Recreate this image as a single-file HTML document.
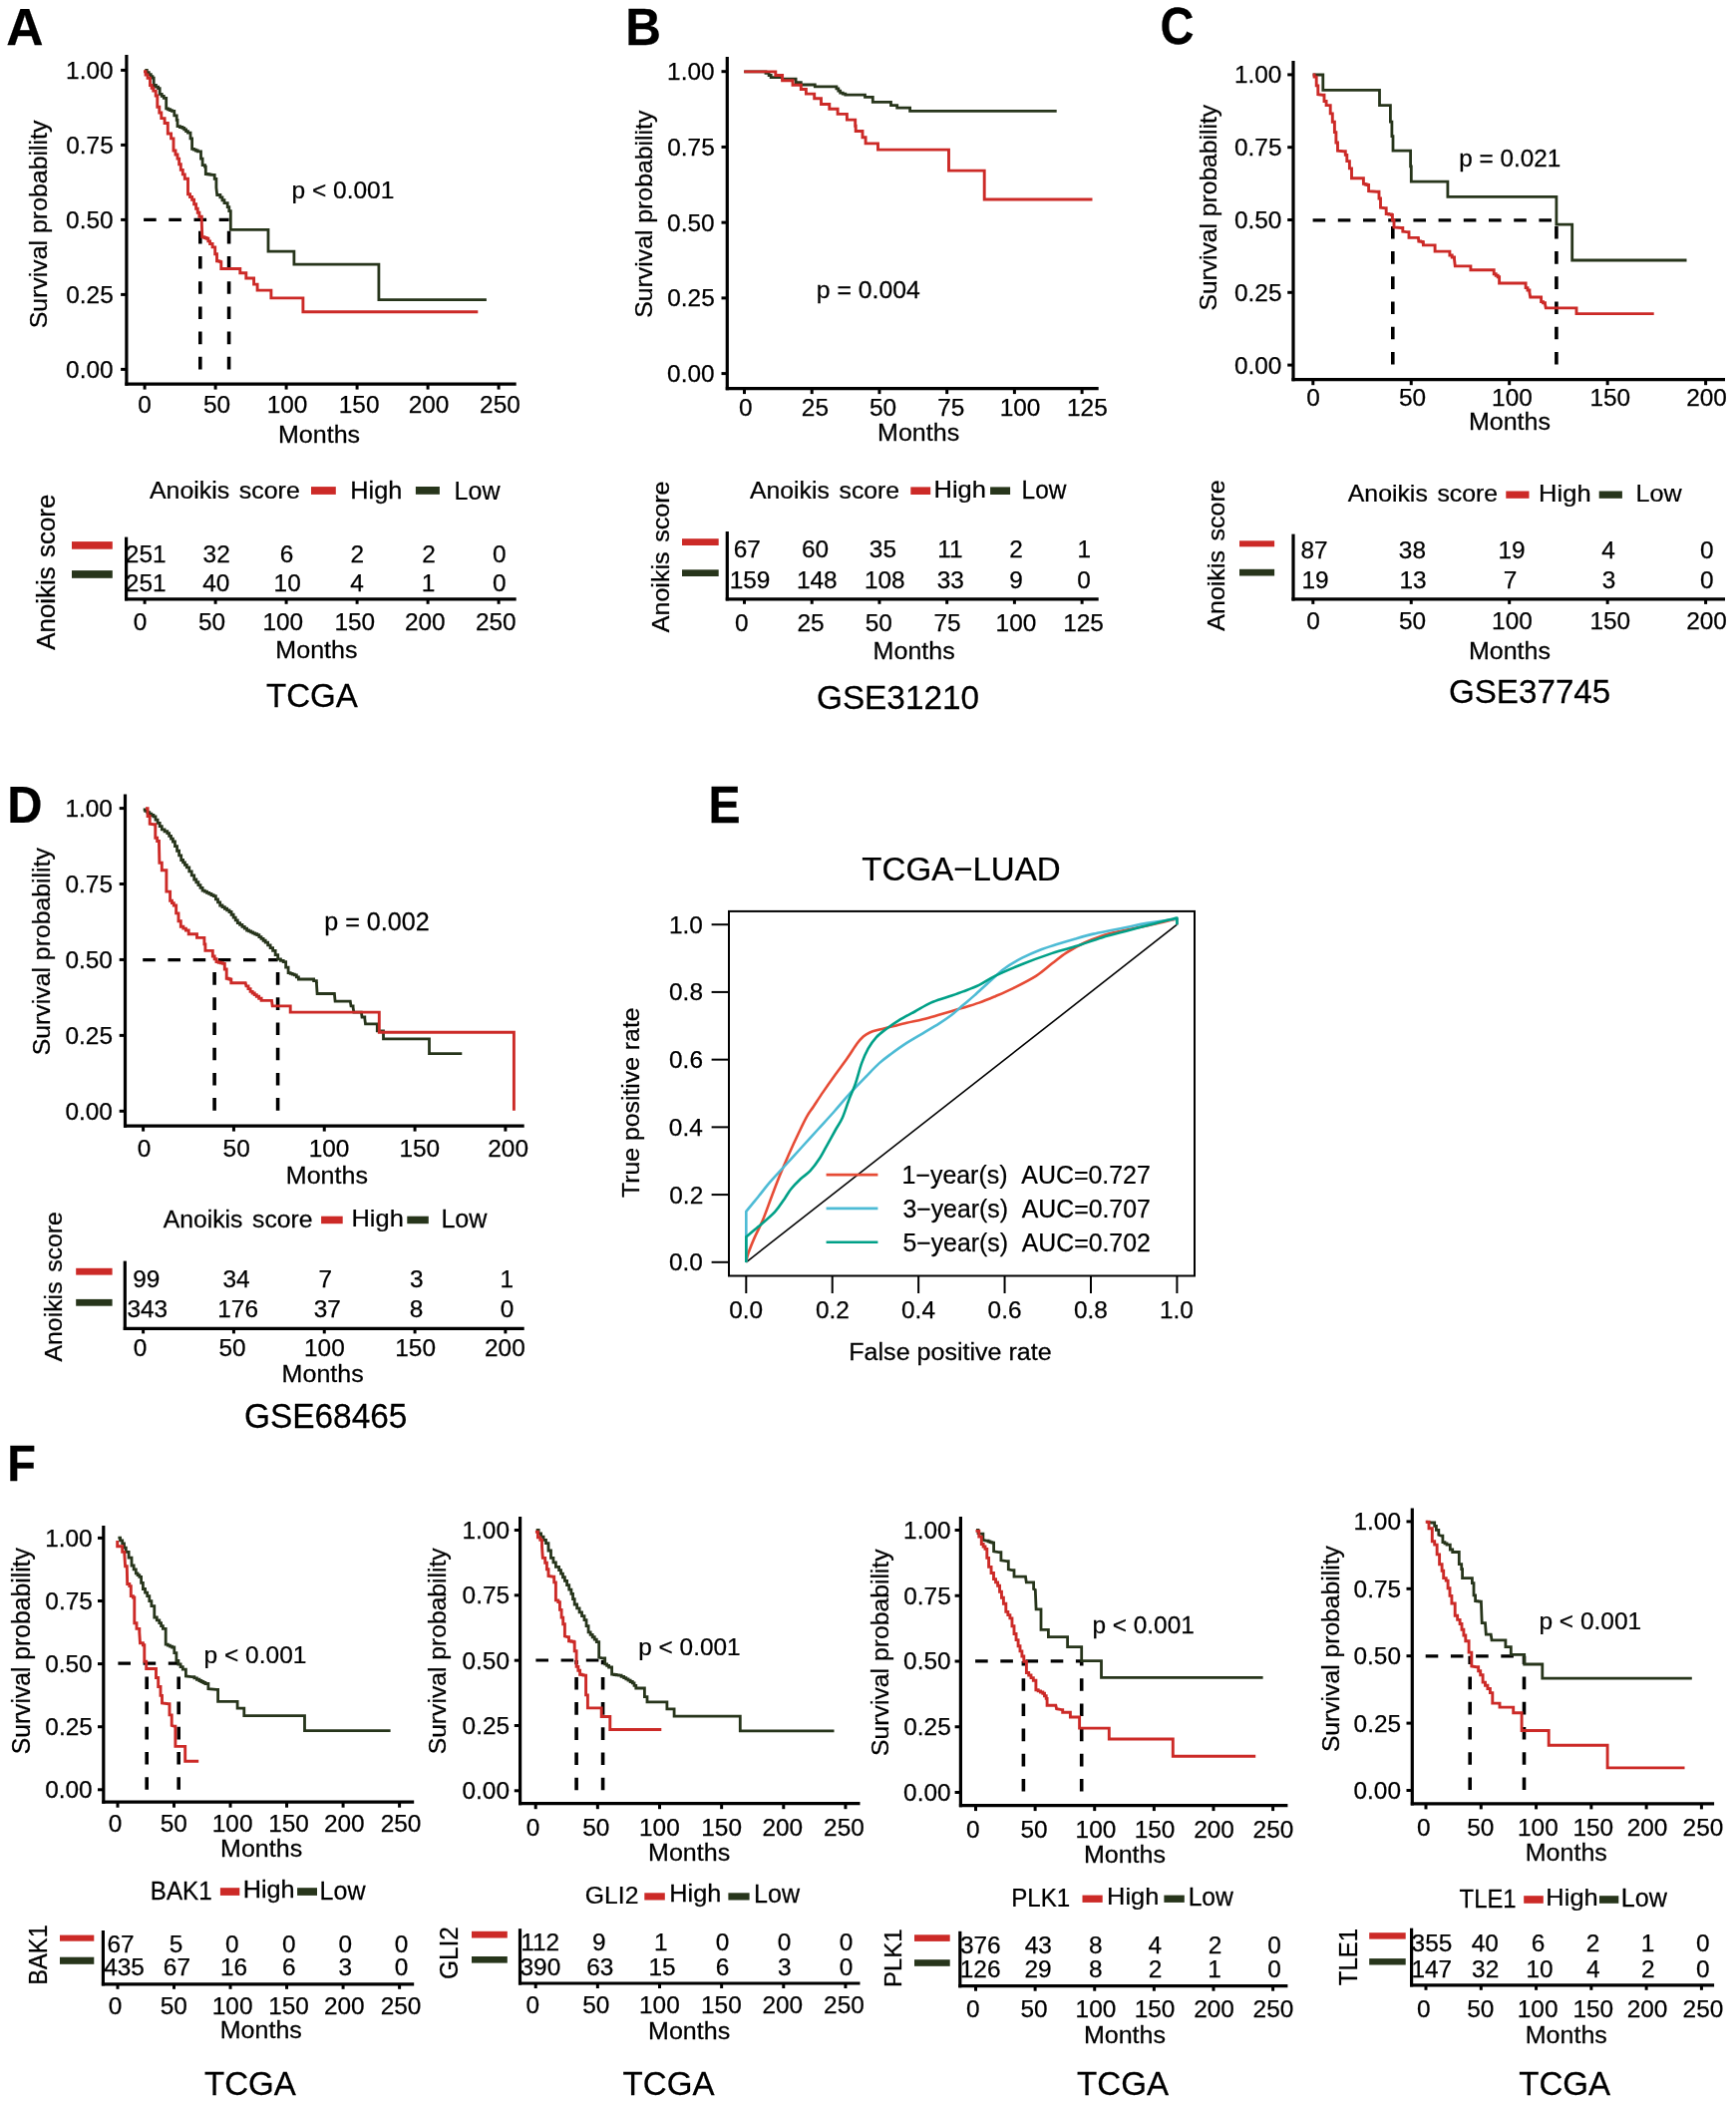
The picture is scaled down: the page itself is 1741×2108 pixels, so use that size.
<!DOCTYPE html>
<html><head><meta charset="utf-8"><style>
html,body{margin:0;padding:0;background:#fff;overflow:hidden;width:1741px;height:2108px;}
svg{display:block;will-change:transform;}
text{font-family:"Liberation Sans",sans-serif;stroke:#000;stroke-width:0.25px;}
</style></head><body>
<svg width="1741" height="2108" viewBox="0 0 1741 2108">
<rect width="1741" height="2108" fill="#fff"/>
<text transform="translate(6.31,45.00)" font-size="51.59" font-weight="bold">A</text>
<text transform="translate(627.28,44.80) scale(0.9596,1)" font-size="51.59" font-weight="bold">B</text>
<text transform="translate(1163.61,44.28) scale(0.9127,1)" font-size="51.69" font-weight="bold">C</text>
<text transform="translate(7.33,824.90) scale(0.9455,1)" font-size="51.59" font-weight="bold">D</text>
<text transform="translate(710.57,825.30) scale(0.9331,1)" font-size="51.59" font-weight="bold">E</text>
<text transform="translate(7.15,1485.00) scale(0.9292,1)" font-size="50.43" font-weight="bold">F</text>
<line x1="126.90" y1="55.00" x2="126.90" y2="386.70" stroke="#000" stroke-width="3.2" stroke-linecap="butt"/>
<line x1="125.40" y1="385.10" x2="517.70" y2="385.10" stroke="#000" stroke-width="3.2" stroke-linecap="butt"/>
<line x1="121.10" y1="70.40" x2="126.90" y2="70.40" stroke="#000" stroke-width="3.0" stroke-linecap="butt"/>
<text transform="translate(66.10,78.82)" font-size="24.40">1.00</text>
<line x1="121.10" y1="145.40" x2="126.90" y2="145.40" stroke="#000" stroke-width="3.0" stroke-linecap="butt"/>
<text transform="translate(66.22,153.82)" font-size="24.40">0.75</text>
<line x1="121.10" y1="220.40" x2="126.90" y2="220.40" stroke="#000" stroke-width="3.0" stroke-linecap="butt"/>
<text transform="translate(66.10,228.82)" font-size="24.40">0.50</text>
<line x1="121.10" y1="295.40" x2="126.90" y2="295.40" stroke="#000" stroke-width="3.0" stroke-linecap="butt"/>
<text transform="translate(66.22,303.82)" font-size="24.40">0.25</text>
<line x1="121.10" y1="370.40" x2="126.90" y2="370.40" stroke="#000" stroke-width="3.0" stroke-linecap="butt"/>
<text transform="translate(66.10,378.82)" font-size="24.40">0.00</text>
<line x1="145.10" y1="385.10" x2="145.10" y2="390.60" stroke="#000" stroke-width="3.0" stroke-linecap="butt"/>
<text transform="translate(138.27,414.37)" font-size="24.40">0</text>
<line x1="216.10" y1="385.10" x2="216.10" y2="390.60" stroke="#000" stroke-width="3.0" stroke-linecap="butt"/>
<text transform="translate(203.90,414.37)" font-size="24.40">50</text>
<line x1="287.10" y1="385.10" x2="287.10" y2="390.60" stroke="#000" stroke-width="3.0" stroke-linecap="butt"/>
<text transform="translate(267.70,414.37)" font-size="24.40">100</text>
<line x1="358.10" y1="385.10" x2="358.10" y2="390.60" stroke="#000" stroke-width="3.0" stroke-linecap="butt"/>
<text transform="translate(339.80,414.37)" font-size="24.40">150</text>
<line x1="429.10" y1="385.10" x2="429.10" y2="390.60" stroke="#000" stroke-width="3.0" stroke-linecap="butt"/>
<text transform="translate(409.70,414.37)" font-size="24.40">200</text>
<line x1="500.10" y1="385.10" x2="500.10" y2="390.60" stroke="#000" stroke-width="3.0" stroke-linecap="butt"/>
<text transform="translate(481.10,414.37)" font-size="24.40">250</text>
<text transform="translate(279.00,443.64) scale(1.0404,1)" font-size="24.08">Months</text>
<text transform="translate(47.08,329.32) rotate(-90) scale(1.0201,1)" font-size="24.39">Survival probability</text>
<text transform="translate(292.51,199.38) scale(0.9857,1)" font-size="24.84">p &lt; 0.001</text>
<line x1="144.10" y1="220.40" x2="229.60" y2="220.40" stroke="#000" stroke-width="3.2" stroke-linecap="butt" stroke-dasharray="12.6,12.6"/>
<line x1="200.80" y1="370.40" x2="200.80" y2="220.40" stroke="#000" stroke-width="3.6" stroke-linecap="butt" stroke-dasharray="12.6,12.6"/>
<line x1="229.60" y1="370.40" x2="229.60" y2="220.40" stroke="#000" stroke-width="3.6" stroke-linecap="butt" stroke-dasharray="12.6,12.6"/>
<path d="M145.30,70.50 L147.30,70.50 L147.30,72.53 L149.30,72.53 L149.30,74.57 L151.30,74.57 L151.30,76.60 L152.90,76.60 L152.90,78.20 L154.20,78.20 L154.20,85.50 L156.40,85.50 L156.40,87.10 L158.60,87.10 L158.60,88.70 L160.20,88.70 L160.20,94.40 L162.25,94.40 L162.25,96.40 L164.30,96.40 L164.30,98.40 L166.70,98.40 L166.70,108.90 L168.60,108.90 L168.60,109.73 L170.50,109.73 L170.50,110.57 L172.40,110.57 L172.40,111.40 L174.80,111.40 L174.80,115.85 L177.20,115.85 L177.20,120.30 L178.00,120.30 L178.00,126.70 L180.45,126.70 L180.45,127.50 L182.90,127.50 L182.90,128.30 L184.77,128.30 L184.77,129.93 L186.63,129.93 L186.63,131.57 L188.50,131.57 L188.50,133.20 L191.00,133.20 L191.00,138.90 L192.60,138.90 L192.60,149.40 L194.50,149.40 L194.50,150.20 L196.40,150.20 L196.40,151.00 L198.30,151.00 L198.30,151.80 L201.50,151.80 L201.50,159.10 L203.10,159.10 L203.10,165.60 L205.50,165.60 L205.50,167.20 L206.30,167.20 L206.30,174.50 L208.20,174.50 L208.20,174.77 L210.10,174.77 L210.10,175.03 L212.00,175.03 L212.00,175.30 L215.20,175.30 L215.20,179.30 L216.90,179.30 L216.90,188.20 L217.70,195.50 L220.90,195.50 L220.90,197.90 L222.95,197.90 L222.95,200.75 L225.00,200.75 L225.00,203.60 L228.20,203.60 L228.20,207.60 L229.80,207.60 L229.80,211.70 L231.30,211.70 L231.30,230.30 L269.00,230.30 L269.00,252.20 L294.90,252.20 L294.90,265.20 L379.90,265.20 L379.90,300.60 L487.90,300.60" fill="none" stroke="#27351b" stroke-width="2.8" stroke-linejoin="miter" stroke-linecap="butt"/>
<path d="M144.00,71.70 L146.05,71.70 L146.05,74.95 L148.10,74.95 L148.10,78.20 L150.50,78.20 L150.50,85.50 L152.15,85.50 L152.15,88.30 L153.80,88.30 L153.80,91.10 L156.20,91.10 L156.20,96.00 L157.80,96.00 L157.80,107.30 L159.80,107.30 L159.80,112.95 L161.80,112.95 L161.80,118.60 L165.10,118.60 L165.10,123.50 L168.30,123.50 L168.30,134.00 L171.60,134.00 L171.60,138.90 L174.00,138.90 L174.00,151.00 L176.00,151.00 L176.00,155.05 L178.00,155.05 L178.00,159.10 L179.65,159.10 L179.65,164.75 L181.30,164.75 L181.30,170.40 L183.30,170.40 L183.30,174.85 L185.30,174.85 L185.30,179.30 L188.50,179.30 L188.50,194.70 L190.55,194.70 L190.55,197.50 L192.60,197.50 L192.60,200.30 L194.60,200.30 L194.60,204.75 L196.60,204.75 L196.60,209.20 L198.25,209.20 L198.25,213.25 L199.90,213.25 L199.90,217.30 L202.30,217.30 L202.30,223.80 L202.80,237.60 L204.95,237.60 L204.95,238.45 L207.10,238.45 L207.10,239.30 L208.85,239.30 L208.85,241.90 L210.60,241.90 L210.60,244.50 L213.10,244.50 L213.10,247.90 L215.70,247.90 L215.70,254.80 L217.50,254.80 L217.50,261.70 L219.20,261.70 L219.20,262.15 L220.90,262.15 L220.90,262.60 L221.80,262.60 L221.80,269.50 L240.80,269.50 L240.80,273.80 L246.80,273.80 L246.80,279.00 L254.60,279.00 L254.60,285.10 L258.10,285.10 L258.10,291.10 L271.90,291.10 L271.90,298.90 L303.90,298.90 L303.90,312.70 L479.30,312.70" fill="none" stroke="#cc2a27" stroke-width="2.9" stroke-linejoin="miter" stroke-linecap="butt"/>
<text transform="translate(149.90,500.46) scale(1.0407,1)" font-size="23.95">Anoikis</text>
<text transform="translate(239.84,500.46) scale(1.0407,1)" font-size="23.95">score</text>
<rect x="312.00" y="488.10" width="24.80" height="7.80" fill="#cc2a27"/>
<rect x="416.90" y="488.00" width="24.00" height="7.80" fill="#27351b"/>
<text transform="translate(351.28,500.29) scale(1.0603,1)" font-size="23.85">High</text>
<text transform="translate(455.60,500.65) scale(0.9893,1)" font-size="25.29">Low</text>
<line x1="126.60" y1="538.60" x2="126.60" y2="602.40" stroke="#000" stroke-width="3.2" stroke-linecap="butt"/>
<line x1="125.10" y1="600.80" x2="517.70" y2="600.80" stroke="#000" stroke-width="3.2" stroke-linecap="butt"/>
<line x1="145.10" y1="600.80" x2="145.10" y2="605.80" stroke="#000" stroke-width="3.0" stroke-linecap="butt"/>
<text transform="translate(133.77,631.82)" font-size="24.40">0</text>
<line x1="216.10" y1="600.80" x2="216.10" y2="605.80" stroke="#000" stroke-width="3.0" stroke-linecap="butt"/>
<text transform="translate(199.00,631.82)" font-size="24.40">50</text>
<line x1="287.10" y1="600.80" x2="287.10" y2="605.80" stroke="#000" stroke-width="3.0" stroke-linecap="butt"/>
<text transform="translate(263.40,631.82)" font-size="24.40">100</text>
<line x1="358.10" y1="600.80" x2="358.10" y2="605.80" stroke="#000" stroke-width="3.0" stroke-linecap="butt"/>
<text transform="translate(335.40,631.82)" font-size="24.40">150</text>
<line x1="429.10" y1="600.80" x2="429.10" y2="605.80" stroke="#000" stroke-width="3.0" stroke-linecap="butt"/>
<text transform="translate(405.90,631.82)" font-size="24.40">200</text>
<line x1="500.10" y1="600.80" x2="500.10" y2="605.80" stroke="#000" stroke-width="3.0" stroke-linecap="butt"/>
<text transform="translate(476.90,631.82)" font-size="24.40">250</text>
<text transform="translate(125.83,563.92)" font-size="24.40">251</text>
<text transform="translate(203.58,563.92)" font-size="24.40">32</text>
<text transform="translate(280.81,563.92)" font-size="24.40">6</text>
<text transform="translate(351.53,564.04)" font-size="24.40">2</text>
<text transform="translate(423.13,564.04)" font-size="24.40">2</text>
<text transform="translate(493.97,563.92)" font-size="24.40">0</text>
<text transform="translate(125.83,592.92)" font-size="24.40">251</text>
<text transform="translate(203.14,592.92)" font-size="24.40">40</text>
<text transform="translate(274.57,592.92)" font-size="24.40">10</text>
<text transform="translate(351.35,592.92)" font-size="24.40">4</text>
<text transform="translate(422.86,592.92)" font-size="24.40">1</text>
<text transform="translate(493.97,592.92)" font-size="24.40">0</text>
<rect x="72.00" y="543.10" width="40.80" height="7.60" fill="#cc2a27"/>
<rect x="72.00" y="572.10" width="40.80" height="7.70" fill="#27351b"/>
<text transform="translate(55.25,651.70) rotate(-90) scale(1.0206,1)" font-size="25.31">Anoikis</text>
<text transform="translate(55.25,558.89) rotate(-90) scale(1.0206,1)" font-size="25.31">score</text>
<text transform="translate(276.35,660.46) scale(1.0404,1)" font-size="24.08">Months</text>
<text transform="translate(266.99,708.61) scale(0.9793,1)" font-size="33.80">TCGA</text>
<line x1="729.30" y1="56.90" x2="729.30" y2="391.20" stroke="#000" stroke-width="3.2" stroke-linecap="butt"/>
<line x1="727.80" y1="389.60" x2="1101.70" y2="389.60" stroke="#000" stroke-width="3.2" stroke-linecap="butt"/>
<line x1="723.50" y1="71.70" x2="729.30" y2="71.70" stroke="#000" stroke-width="3.0" stroke-linecap="butt"/>
<text transform="translate(669.10,80.12)" font-size="24.40">1.00</text>
<line x1="723.50" y1="147.43" x2="729.30" y2="147.43" stroke="#000" stroke-width="3.0" stroke-linecap="butt"/>
<text transform="translate(669.22,155.84)" font-size="24.40">0.75</text>
<line x1="723.50" y1="223.15" x2="729.30" y2="223.15" stroke="#000" stroke-width="3.0" stroke-linecap="butt"/>
<text transform="translate(669.10,231.57)" font-size="24.40">0.50</text>
<line x1="723.50" y1="298.88" x2="729.30" y2="298.88" stroke="#000" stroke-width="3.0" stroke-linecap="butt"/>
<text transform="translate(669.22,307.29)" font-size="24.40">0.25</text>
<line x1="723.50" y1="374.60" x2="729.30" y2="374.60" stroke="#000" stroke-width="3.0" stroke-linecap="butt"/>
<text transform="translate(669.10,383.02)" font-size="24.40">0.00</text>
<line x1="746.50" y1="389.60" x2="746.50" y2="395.10" stroke="#000" stroke-width="3.0" stroke-linecap="butt"/>
<text transform="translate(740.97,416.87)" font-size="24.40">0</text>
<line x1="814.23" y1="389.60" x2="814.23" y2="395.10" stroke="#000" stroke-width="3.0" stroke-linecap="butt"/>
<text transform="translate(803.84,416.87)" font-size="24.40">25</text>
<line x1="881.95" y1="389.60" x2="881.95" y2="395.10" stroke="#000" stroke-width="3.0" stroke-linecap="butt"/>
<text transform="translate(871.90,416.87)" font-size="24.40">50</text>
<line x1="949.67" y1="389.60" x2="949.67" y2="395.10" stroke="#000" stroke-width="3.0" stroke-linecap="butt"/>
<text transform="translate(940.24,416.75)" font-size="24.40">75</text>
<line x1="1017.40" y1="389.60" x2="1017.40" y2="395.10" stroke="#000" stroke-width="3.0" stroke-linecap="butt"/>
<text transform="translate(1002.70,416.87)" font-size="24.40">100</text>
<line x1="1085.12" y1="389.60" x2="1085.12" y2="395.10" stroke="#000" stroke-width="3.0" stroke-linecap="butt"/>
<text transform="translate(1070.06,416.87)" font-size="24.40">125</text>
<text transform="translate(880.05,441.58) scale(1.0404,1)" font-size="24.08">Months</text>
<text transform="translate(653.58,318.72) rotate(-90) scale(1.0171,1)" font-size="24.39">Survival probability</text>
<text transform="translate(818.69,299.43) scale(1.0087,1)" font-size="24.62">p = 0.004</text>
<path d="M746.20,71.90 L765.90,71.90 L768.00,71.90 L768.00,73.40 L771.10,73.40 L771.10,75.50 L773.20,75.50 L773.20,77.60 L784.60,77.60 L784.60,79.10 L795.50,79.10 L798.10,79.10 L798.10,82.70 L803.30,82.70 L803.30,85.00 L817.30,85.00 L817.30,86.90 L837.00,86.90 L838.90,86.90 L838.90,88.97 L840.80,88.97 L840.80,91.03 L842.70,91.03 L842.70,93.10 L845.25,93.10 L845.25,94.15 L847.80,94.15 L847.80,95.20 L867.50,95.20 L867.50,97.30 L875.30,97.30 L875.30,102.40 L893.50,102.40 L893.50,105.60 L899.70,105.60 L899.70,108.10 L912.60,108.10 L912.60,111.30 L1059.70,111.30" fill="none" stroke="#27351b" stroke-width="2.8" stroke-linejoin="miter" stroke-linecap="butt"/>
<path d="M746.20,71.90 L777.80,71.90 L777.80,75.50 L784.60,75.50 L784.60,80.70 L795.00,80.70 L795.00,85.30 L803.30,85.30 L803.30,89.50 L808.40,89.50 L808.40,94.10 L816.70,94.10 L816.70,98.80 L823.50,98.80 L823.50,104.50 L831.80,104.50 L831.80,109.20 L840.10,109.20 L840.10,114.40 L849.40,114.40 L849.40,120.10 L857.70,120.10 L857.70,126.30 L858.20,126.30 L858.20,131.50 L865.00,131.50 L865.00,137.70 L868.10,137.70 L868.10,143.90 L880.50,143.90 L880.50,150.10 L951.50,150.10 L951.50,171.10 L987.20,171.10 L987.20,200.00 L1095.50,200.00" fill="none" stroke="#cc2a27" stroke-width="2.9" stroke-linejoin="miter" stroke-linecap="butt"/>
<text transform="translate(752.00,499.76) scale(1.0350,1)" font-size="23.95">Anoikis</text>
<text transform="translate(841.52,499.76) scale(1.0350,1)" font-size="23.95">score</text>
<rect x="913.30" y="488.40" width="19.90" height="7.60" fill="#cc2a27"/>
<rect x="993.10" y="488.40" width="20.00" height="7.60" fill="#27351b"/>
<text transform="translate(936.56,499.32) scale(1.0549,1)" font-size="24.17">High</text>
<text transform="translate(1024.54,499.95) scale(0.9834,1)" font-size="24.86">Low</text>
<line x1="729.30" y1="533.00" x2="729.30" y2="602.40" stroke="#000" stroke-width="3.2" stroke-linecap="butt"/>
<line x1="727.80" y1="600.80" x2="1101.70" y2="600.80" stroke="#000" stroke-width="3.2" stroke-linecap="butt"/>
<line x1="746.50" y1="600.80" x2="746.50" y2="605.80" stroke="#000" stroke-width="3.0" stroke-linecap="butt"/>
<text transform="translate(736.97,633.37)" font-size="24.40">0</text>
<line x1="814.23" y1="600.80" x2="814.23" y2="605.80" stroke="#000" stroke-width="3.0" stroke-linecap="butt"/>
<text transform="translate(799.54,633.37)" font-size="24.40">25</text>
<line x1="881.95" y1="600.80" x2="881.95" y2="605.80" stroke="#000" stroke-width="3.0" stroke-linecap="butt"/>
<text transform="translate(867.80,633.37)" font-size="24.40">50</text>
<line x1="949.67" y1="600.80" x2="949.67" y2="605.80" stroke="#000" stroke-width="3.0" stroke-linecap="butt"/>
<text transform="translate(936.44,633.25)" font-size="24.40">75</text>
<line x1="1017.40" y1="600.80" x2="1017.40" y2="605.80" stroke="#000" stroke-width="3.0" stroke-linecap="butt"/>
<text transform="translate(998.60,633.37)" font-size="24.40">100</text>
<line x1="1085.12" y1="600.80" x2="1085.12" y2="605.80" stroke="#000" stroke-width="3.0" stroke-linecap="butt"/>
<text transform="translate(1066.16,633.37)" font-size="24.40">125</text>
<text transform="translate(735.76,558.67)" font-size="24.40">67</text>
<text transform="translate(803.88,558.67)" font-size="24.40">60</text>
<text transform="translate(871.86,558.67)" font-size="24.40">35</text>
<text transform="translate(940.31,558.67)" font-size="24.40">11</text>
<text transform="translate(1012.33,558.79)" font-size="24.40">2</text>
<text transform="translate(1080.46,558.67)" font-size="24.40">1</text>
<text transform="translate(731.72,589.82)" font-size="24.40">159</text>
<text transform="translate(798.96,589.82)" font-size="24.40">148</text>
<text transform="translate(866.96,589.82)" font-size="24.40">108</text>
<text transform="translate(939.66,589.82)" font-size="24.40">33</text>
<text transform="translate(1012.33,589.82)" font-size="24.40">9</text>
<text transform="translate(1080.37,589.82)" font-size="24.40">0</text>
<rect x="684.00" y="540.20" width="36.70" height="6.80" fill="#cc2a27"/>
<rect x="684.00" y="571.30" width="36.70" height="6.70" fill="#27351b"/>
<text transform="translate(670.76,634.30) rotate(-90) scale(1.0478,1)" font-size="23.95">Anoikis</text>
<text transform="translate(670.76,543.82) rotate(-90) scale(1.0478,1)" font-size="23.95">score</text>
<text transform="translate(875.60,660.76) scale(1.0404,1)" font-size="24.08">Months</text>
<text transform="translate(818.93,711.46) scale(0.9788,1)" font-size="34.08">GSE31210</text>
<line x1="1297.00" y1="60.90" x2="1297.00" y2="382.30" stroke="#000" stroke-width="3.2" stroke-linecap="butt"/>
<line x1="1295.50" y1="380.70" x2="1730.00" y2="380.70" stroke="#000" stroke-width="3.2" stroke-linecap="butt"/>
<line x1="1291.20" y1="74.90" x2="1297.00" y2="74.90" stroke="#000" stroke-width="3.0" stroke-linecap="butt"/>
<text transform="translate(1237.90,83.32)" font-size="24.40">1.00</text>
<line x1="1291.20" y1="147.70" x2="1297.00" y2="147.70" stroke="#000" stroke-width="3.0" stroke-linecap="butt"/>
<text transform="translate(1238.02,156.12)" font-size="24.40">0.75</text>
<line x1="1291.20" y1="220.50" x2="1297.00" y2="220.50" stroke="#000" stroke-width="3.0" stroke-linecap="butt"/>
<text transform="translate(1237.90,228.92)" font-size="24.40">0.50</text>
<line x1="1291.20" y1="293.30" x2="1297.00" y2="293.30" stroke="#000" stroke-width="3.0" stroke-linecap="butt"/>
<text transform="translate(1238.02,301.72)" font-size="24.40">0.25</text>
<line x1="1291.20" y1="366.10" x2="1297.00" y2="366.10" stroke="#000" stroke-width="3.0" stroke-linecap="butt"/>
<text transform="translate(1237.90,374.52)" font-size="24.40">0.00</text>
<line x1="1316.80" y1="380.70" x2="1316.80" y2="386.20" stroke="#000" stroke-width="3.0" stroke-linecap="butt"/>
<text transform="translate(1310.17,406.72)" font-size="24.40">0</text>
<line x1="1415.25" y1="380.70" x2="1415.25" y2="386.20" stroke="#000" stroke-width="3.0" stroke-linecap="butt"/>
<text transform="translate(1402.90,406.72)" font-size="24.40">50</text>
<line x1="1513.70" y1="380.70" x2="1513.70" y2="386.20" stroke="#000" stroke-width="3.0" stroke-linecap="butt"/>
<text transform="translate(1496.10,406.72)" font-size="24.40">100</text>
<line x1="1612.15" y1="380.70" x2="1612.15" y2="386.20" stroke="#000" stroke-width="3.0" stroke-linecap="butt"/>
<text transform="translate(1594.40,406.72)" font-size="24.40">150</text>
<line x1="1710.60" y1="380.70" x2="1710.60" y2="386.20" stroke="#000" stroke-width="3.0" stroke-linecap="butt"/>
<text transform="translate(1691.20,406.72)" font-size="24.40">200</text>
<text transform="translate(1472.90,430.61) scale(1.0404,1)" font-size="24.08">Months</text>
<text transform="translate(1220.11,311.51) rotate(-90) scale(0.9962,1)" font-size="24.71">Survival probability</text>
<text transform="translate(1463.32,167.43) scale(0.9865,1)" font-size="24.62">p = 0.021</text>
<line x1="1316.60" y1="220.80" x2="1560.90" y2="220.80" stroke="#000" stroke-width="3.2" stroke-linecap="butt" stroke-dasharray="12.6,12.6"/>
<line x1="1396.80" y1="365.50" x2="1396.80" y2="220.80" stroke="#000" stroke-width="3.6" stroke-linecap="butt" stroke-dasharray="12.6,12.6"/>
<line x1="1560.90" y1="365.50" x2="1560.90" y2="220.80" stroke="#000" stroke-width="3.6" stroke-linecap="butt" stroke-dasharray="12.6,12.6"/>
<path d="M1316.60,75.00 L1326.80,75.00 L1326.80,90.30 L1383.50,90.30 L1383.50,105.60 L1394.40,105.60 L1394.40,122.20 L1395.90,122.20 L1395.90,136.70 L1397.00,136.70 L1397.00,151.20 L1414.60,151.20 L1414.60,166.80 L1415.30,166.80 L1415.30,182.10 L1451.90,182.10 L1451.90,197.40 L1560.90,197.40 L1560.90,225.20 L1576.70,225.20 L1576.70,261.00 L1691.50,261.00" fill="none" stroke="#27351b" stroke-width="2.8" stroke-linejoin="miter" stroke-linecap="butt"/>
<path d="M1316.60,75.00 L1318.10,75.00 L1318.10,77.10 L1320.20,77.10 L1320.20,85.90 L1321.80,85.90 L1321.80,94.70 L1326.40,95.30 L1328.00,95.30 L1328.00,101.50 L1330.10,101.50 L1330.10,105.60 L1332.70,105.60 L1334.20,105.60 L1334.20,113.90 L1336.30,113.90 L1336.30,122.20 L1338.40,122.20 L1338.40,132.60 L1339.90,132.60 L1339.90,143.00 L1341.50,143.00 L1341.50,151.20 L1347.70,151.80 L1349.30,151.80 L1349.30,155.40 L1350.80,155.40 L1350.80,161.60 L1353.40,161.60 L1353.40,168.90 L1355.50,168.90 L1355.50,169.90 L1355.50,178.70 L1366.40,178.70 L1367.40,178.70 L1367.40,184.40 L1369.20,184.40 L1369.20,184.95 L1371.00,184.95 L1371.00,185.50 L1372.60,185.50 L1372.60,191.70 L1380.90,192.20 L1383.00,192.20 L1383.00,199.00 L1384.50,199.00 L1384.50,208.30 L1389.20,208.80 L1390.20,208.80 L1390.20,214.50 L1392.80,214.50 L1392.80,215.00 L1395.40,215.00 L1395.40,215.50 L1396.40,215.50 L1396.40,220.70 L1398.00,220.70 L1398.00,228.00 L1405.20,228.50 L1406.80,228.50 L1406.80,232.10 L1410.90,232.60 L1413.00,232.60 L1413.00,238.40 L1422.40,238.40 L1422.80,242.00 L1424.70,242.00 L1424.70,242.40 L1426.60,242.40 L1426.60,242.80 L1427.40,242.80 L1427.40,245.90 L1437.50,245.90 L1439.10,245.90 L1439.10,252.10 L1452.30,252.10 L1453.90,252.10 L1453.90,256.00 L1456.20,256.00 L1456.20,257.95 L1458.50,257.95 L1458.50,259.90 L1459.30,266.90 L1474.10,266.90 L1474.90,266.90 L1474.90,270.80 L1496.60,270.80 L1498.20,270.80 L1498.20,274.70 L1500.15,274.70 L1500.15,276.25 L1502.10,276.25 L1502.10,277.80 L1503.60,277.80 L1503.60,284.00 L1528.50,284.00 L1530.10,284.00 L1530.10,288.60 L1532.00,288.60 L1532.00,290.95 L1533.90,290.95 L1533.90,293.30 L1534.70,298.00 L1544.10,298.00 L1545.60,298.00 L1545.60,302.60 L1547.55,302.60 L1547.55,303.80 L1549.50,303.80 L1549.50,305.00 L1550.30,308.90 L1581.00,308.90 L1581.00,314.60 L1658.70,314.60" fill="none" stroke="#cc2a27" stroke-width="2.9" stroke-linejoin="miter" stroke-linecap="butt"/>
<text transform="translate(1351.80,503.27) scale(1.0668,1)" font-size="23.27">Anoikis</text>
<text transform="translate(1441.43,503.27) scale(1.0668,1)" font-size="23.27">score</text>
<rect x="1510.30" y="492.50" width="23.20" height="7.30" fill="#cc2a27"/>
<rect x="1603.70" y="492.50" width="23.20" height="7.30" fill="#27351b"/>
<text transform="translate(1543.06,503.49) scale(1.0713,1)" font-size="23.85">High</text>
<text transform="translate(1640.49,503.45) scale(1.0167,1)" font-size="24.71">Low</text>
<line x1="1297.00" y1="535.60" x2="1297.00" y2="602.50" stroke="#000" stroke-width="3.2" stroke-linecap="butt"/>
<line x1="1295.50" y1="600.90" x2="1730.00" y2="600.90" stroke="#000" stroke-width="3.2" stroke-linecap="butt"/>
<line x1="1316.80" y1="600.90" x2="1316.80" y2="605.90" stroke="#000" stroke-width="3.0" stroke-linecap="butt"/>
<text transform="translate(1310.17,631.42)" font-size="24.40">0</text>
<line x1="1415.25" y1="600.90" x2="1415.25" y2="605.90" stroke="#000" stroke-width="3.0" stroke-linecap="butt"/>
<text transform="translate(1402.90,631.42)" font-size="24.40">50</text>
<line x1="1513.70" y1="600.90" x2="1513.70" y2="605.90" stroke="#000" stroke-width="3.0" stroke-linecap="butt"/>
<text transform="translate(1496.10,631.42)" font-size="24.40">100</text>
<line x1="1612.15" y1="600.90" x2="1612.15" y2="605.90" stroke="#000" stroke-width="3.0" stroke-linecap="butt"/>
<text transform="translate(1594.40,631.42)" font-size="24.40">150</text>
<line x1="1710.60" y1="600.90" x2="1710.60" y2="605.90" stroke="#000" stroke-width="3.0" stroke-linecap="butt"/>
<text transform="translate(1691.20,631.42)" font-size="24.40">200</text>
<text transform="translate(1304.52,559.57)" font-size="24.40">87</text>
<text transform="translate(1402.86,559.57)" font-size="24.40">38</text>
<text transform="translate(1502.39,559.57)" font-size="24.40">19</text>
<text transform="translate(1606.15,559.57)" font-size="24.40">4</text>
<text transform="translate(1705.07,559.57)" font-size="24.40">0</text>
<text transform="translate(1305.39,589.72)" font-size="24.40">19</text>
<text transform="translate(1403.43,589.72)" font-size="24.40">13</text>
<text transform="translate(1507.63,589.72)" font-size="24.40">7</text>
<text transform="translate(1606.73,589.72)" font-size="24.40">3</text>
<text transform="translate(1705.07,589.72)" font-size="24.40">0</text>
<rect x="1243.00" y="542.30" width="35.10" height="6.00" fill="#cc2a27"/>
<rect x="1243.00" y="570.80" width="35.10" height="6.70" fill="#27351b"/>
<text transform="translate(1228.17,632.70) rotate(-90) scale(1.0691,1)" font-size="23.40">Anoikis</text>
<text transform="translate(1228.17,542.44) rotate(-90) scale(1.0691,1)" font-size="23.40">score</text>
<text transform="translate(1472.90,660.56) scale(1.0404,1)" font-size="24.08">Months</text>
<text transform="translate(1452.94,704.66) scale(0.9737,1)" font-size="34.08">GSE37745</text>
<line x1="125.50" y1="796.40" x2="125.50" y2="1130.70" stroke="#000" stroke-width="3.2" stroke-linecap="butt"/>
<line x1="124.00" y1="1129.10" x2="525.70" y2="1129.10" stroke="#000" stroke-width="3.2" stroke-linecap="butt"/>
<line x1="119.70" y1="810.60" x2="125.50" y2="810.60" stroke="#000" stroke-width="3.0" stroke-linecap="butt"/>
<text transform="translate(65.40,819.02)" font-size="24.40">1.00</text>
<line x1="119.70" y1="886.52" x2="125.50" y2="886.52" stroke="#000" stroke-width="3.0" stroke-linecap="butt"/>
<text transform="translate(65.52,894.94)" font-size="24.40">0.75</text>
<line x1="119.70" y1="962.45" x2="125.50" y2="962.45" stroke="#000" stroke-width="3.0" stroke-linecap="butt"/>
<text transform="translate(65.40,970.87)" font-size="24.40">0.50</text>
<line x1="119.70" y1="1038.38" x2="125.50" y2="1038.38" stroke="#000" stroke-width="3.0" stroke-linecap="butt"/>
<text transform="translate(65.52,1046.79)" font-size="24.40">0.25</text>
<line x1="119.70" y1="1114.30" x2="125.50" y2="1114.30" stroke="#000" stroke-width="3.0" stroke-linecap="butt"/>
<text transform="translate(65.40,1122.72)" font-size="24.40">0.00</text>
<line x1="143.60" y1="1129.10" x2="143.60" y2="1134.60" stroke="#000" stroke-width="3.0" stroke-linecap="butt"/>
<text transform="translate(137.77,1160.27)" font-size="24.40">0</text>
<line x1="234.43" y1="1129.10" x2="234.43" y2="1134.60" stroke="#000" stroke-width="3.0" stroke-linecap="butt"/>
<text transform="translate(223.60,1160.27)" font-size="24.40">50</text>
<line x1="325.25" y1="1129.10" x2="325.25" y2="1134.60" stroke="#000" stroke-width="3.0" stroke-linecap="butt"/>
<text transform="translate(309.70,1160.27)" font-size="24.40">100</text>
<line x1="416.08" y1="1129.10" x2="416.08" y2="1134.60" stroke="#000" stroke-width="3.0" stroke-linecap="butt"/>
<text transform="translate(400.40,1160.27)" font-size="24.40">150</text>
<line x1="506.90" y1="1129.10" x2="506.90" y2="1134.60" stroke="#000" stroke-width="3.0" stroke-linecap="butt"/>
<text transform="translate(489.30,1160.27)" font-size="24.40">200</text>
<text transform="translate(286.80,1186.51) scale(1.0404,1)" font-size="24.08">Months</text>
<text transform="translate(49.53,1058.22) rotate(-90) scale(1.0088,1)" font-size="24.60">Survival probability</text>
<text transform="translate(325.27,933.46) scale(1.0061,1)" font-size="24.95">p = 0.002</text>
<line x1="143.20" y1="962.70" x2="278.60" y2="962.70" stroke="#000" stroke-width="3.2" stroke-linecap="butt" stroke-dasharray="12.6,12.6"/>
<line x1="215.10" y1="1113.70" x2="215.10" y2="962.70" stroke="#000" stroke-width="3.6" stroke-linecap="butt" stroke-dasharray="12.6,12.6"/>
<line x1="278.60" y1="1113.70" x2="278.60" y2="962.70" stroke="#000" stroke-width="3.6" stroke-linecap="butt" stroke-dasharray="12.6,12.6"/>
<path d="M143.70,812.00 L145.74,812.00 L145.74,813.38 L147.78,813.38 L147.78,814.76 L149.82,814.76 L149.82,816.14 L151.86,816.14 L151.86,817.52 L153.90,817.52 L153.90,818.90 L156.00,818.90 L156.00,822.15 L158.10,822.15 L158.10,825.40 L160.20,825.40 L160.20,828.65 L162.30,828.65 L162.30,831.90 L165.05,831.90 L165.05,833.75 L167.80,833.75 L167.80,835.60 L169.67,835.60 L169.67,838.40 L171.53,838.40 L171.53,841.20 L173.40,841.20 L173.40,844.00 L175.47,844.00 L175.47,848.62 L177.55,848.62 L177.55,853.25 L179.62,853.25 L179.62,857.88 L181.70,857.88 L181.70,862.50 L183.57,862.50 L183.57,864.97 L185.43,864.97 L185.43,867.43 L187.30,867.43 L187.30,869.90 L189.77,869.90 L189.77,873.93 L192.23,873.93 L192.23,877.97 L194.70,877.97 L194.70,882.00 L196.80,882.00 L196.80,884.77 L198.90,884.77 L198.90,887.55 L201.00,887.55 L201.00,890.33 L203.10,890.33 L203.10,893.10 L205.32,893.10 L205.32,894.22 L207.54,894.22 L207.54,895.34 L209.76,895.34 L209.76,896.46 L211.98,896.46 L211.98,897.58 L214.20,897.58 L214.20,898.70 L216.37,898.70 L216.37,901.80 L218.53,901.80 L218.53,904.90 L220.70,904.90 L220.70,908.00 L223.02,908.00 L223.02,909.62 L225.35,909.62 L225.35,911.25 L227.68,911.25 L227.68,912.88 L230.00,912.88 L230.00,914.50 L232.07,914.50 L232.07,917.27 L234.15,917.27 L234.15,920.05 L236.23,920.05 L236.23,922.83 L238.30,922.83 L238.30,925.60 L240.62,925.60 L240.62,927.45 L242.95,927.45 L242.95,929.30 L245.28,929.30 L245.28,931.15 L247.60,931.15 L247.60,933.00 L249.64,933.00 L249.64,933.94 L251.68,933.94 L251.68,934.88 L253.72,934.88 L253.72,935.82 L255.76,935.82 L255.76,936.76 L257.80,936.76 L257.80,937.70 L259.90,937.70 L259.90,939.55 L262.00,939.55 L262.00,941.40 L264.10,941.40 L264.10,943.25 L266.20,943.25 L266.20,945.10 L268.67,945.10 L268.67,947.87 L271.13,947.87 L271.13,950.63 L273.60,950.63 L273.60,953.40 L276.15,953.40 L276.15,957.65 L278.70,957.65 L278.70,961.90 L281.45,961.90 L281.45,963.30 L284.20,963.30 L284.20,964.70 L286.65,964.70 L286.65,970.20 L289.10,970.20 L289.10,975.70 L291.17,975.70 L291.17,976.40 L293.23,976.40 L293.23,977.10 L295.30,977.10 L295.30,977.80 L297.35,977.80 L297.35,979.90 L299.40,979.90 L299.40,982.00 L311.90,982.00 L314.65,982.00 L314.65,983.70 L317.40,983.70 L317.40,985.40 L318.10,996.50 L335.40,996.50 L336.10,1004.10 L351.30,1004.10 L352.00,1008.90 L354.10,1008.90 L354.10,1010.30 L354.80,1015.10 L362.40,1015.10 L363.00,1020.00 L365.80,1020.00 L365.80,1021.40 L366.50,1026.90 L378.30,1026.90 L378.30,1033.80 L384.50,1033.80 L384.50,1041.80 L430.50,1041.80 L430.50,1056.60 L463.30,1056.60" fill="none" stroke="#27351b" stroke-width="2.8" stroke-linejoin="miter" stroke-linecap="butt"/>
<path d="M146.00,810.60 L148.10,810.60 L148.10,818.45 L150.20,818.45 L150.20,826.30 L153.90,826.80 L155.80,826.80 L155.80,840.30 L157.65,840.30 L157.65,843.50 L159.50,843.50 L159.50,846.70 L159.90,865.30 L162.30,865.30 L162.30,872.70 L164.00,872.70 L166.90,872.70 L166.90,894.10 L169.70,894.10 L170.60,894.10 L170.60,903.30 L172.45,903.30 L172.45,905.65 L174.30,905.65 L174.30,908.00 L176.65,908.00 L176.65,915.85 L179.00,915.85 L179.00,923.70 L181.30,923.70 L181.30,929.30 L183.85,929.30 L183.85,931.15 L186.40,931.15 L186.40,933.00 L189.20,933.00 L189.20,936.70 L196.60,936.70 L197.50,936.70 L197.50,940.40 L202.20,940.40 L204.90,940.40 L204.90,946.90 L205.90,946.90 L205.90,953.40 L210.50,953.40 L213.30,953.40 L213.30,959.00 L215.15,959.00 L215.15,961.80 L217.00,961.80 L217.00,964.60 L219.17,964.60 L219.17,965.20 L221.33,965.20 L221.33,965.80 L223.50,965.80 L223.50,966.40 L225.30,966.40 L225.30,972.00 L227.20,972.00 L227.20,981.30 L229.05,981.30 L229.05,981.75 L230.90,981.75 L230.90,982.20 L231.80,982.20 L231.80,985.70 L246.20,985.70 L246.90,988.90 L249.00,988.90 L249.00,991.65 L251.10,991.65 L251.10,994.40 L253.17,994.40 L253.17,996.00 L255.23,996.00 L255.23,997.60 L257.30,997.60 L257.30,999.20 L259.70,999.20 L259.70,1001.30 L262.10,1001.30 L262.10,1003.40 L272.50,1003.40 L273.20,1008.90 L291.20,1008.90 L291.20,1015.10 L380.30,1015.10 L380.30,1035.20 L515.40,1035.20 L515.40,1113.70" fill="none" stroke="#cc2a27" stroke-width="2.9" stroke-linejoin="miter" stroke-linecap="butt"/>
<text transform="translate(163.80,1230.56) scale(1.0320,1)" font-size="23.95">Anoikis</text>
<text transform="translate(253.09,1230.56) scale(1.0320,1)" font-size="23.95">score</text>
<rect x="322.10" y="1219.70" width="21.60" height="7.50" fill="#cc2a27"/>
<rect x="408.30" y="1219.70" width="21.50" height="7.50" fill="#27351b"/>
<text transform="translate(352.46,1229.89) scale(1.0669,1)" font-size="23.85">High</text>
<text transform="translate(442.39,1230.74) scale(0.9827,1)" font-size="25.57">Low</text>
<line x1="125.30" y1="1264.60" x2="125.30" y2="1334.00" stroke="#000" stroke-width="3.2" stroke-linecap="butt"/>
<line x1="123.80" y1="1332.40" x2="525.70" y2="1332.40" stroke="#000" stroke-width="3.2" stroke-linecap="butt"/>
<line x1="143.60" y1="1332.40" x2="143.60" y2="1337.40" stroke="#000" stroke-width="3.0" stroke-linecap="butt"/>
<text transform="translate(133.87,1359.97)" font-size="24.40">0</text>
<line x1="234.43" y1="1332.40" x2="234.43" y2="1337.40" stroke="#000" stroke-width="3.0" stroke-linecap="butt"/>
<text transform="translate(219.40,1359.97)" font-size="24.40">50</text>
<line x1="325.25" y1="1332.40" x2="325.25" y2="1337.40" stroke="#000" stroke-width="3.0" stroke-linecap="butt"/>
<text transform="translate(305.00,1359.97)" font-size="24.40">100</text>
<line x1="416.08" y1="1332.40" x2="416.08" y2="1337.40" stroke="#000" stroke-width="3.0" stroke-linecap="butt"/>
<text transform="translate(396.30,1359.97)" font-size="24.40">150</text>
<line x1="506.90" y1="1332.40" x2="506.90" y2="1337.40" stroke="#000" stroke-width="3.0" stroke-linecap="butt"/>
<text transform="translate(486.00,1359.97)" font-size="24.40">200</text>
<text transform="translate(133.16,1290.92)" font-size="24.40">99</text>
<text transform="translate(223.54,1290.92)" font-size="24.40">34</text>
<text transform="translate(319.53,1290.92)" font-size="24.40">7</text>
<text transform="translate(410.93,1290.92)" font-size="24.40">3</text>
<text transform="translate(501.46,1290.92)" font-size="24.40">1</text>
<text transform="translate(127.39,1321.37)" font-size="24.40">343</text>
<text transform="translate(218.26,1321.37)" font-size="24.40">176</text>
<text transform="translate(314.68,1321.37)" font-size="24.40">37</text>
<text transform="translate(410.87,1321.37)" font-size="24.40">8</text>
<text transform="translate(501.77,1321.37)" font-size="24.40">0</text>
<rect x="76.20" y="1271.80" width="36.40" height="6.80" fill="#cc2a27"/>
<rect x="76.20" y="1302.90" width="36.40" height="6.80" fill="#27351b"/>
<text transform="translate(61.76,1365.50) rotate(-90) scale(1.0373,1)" font-size="23.95">Anoikis</text>
<text transform="translate(61.76,1275.81) rotate(-90) scale(1.0373,1)" font-size="23.95">score</text>
<text transform="translate(282.60,1385.71) scale(1.0404,1)" font-size="24.08">Months</text>
<text transform="translate(244.93,1431.66) scale(0.9730,1)" font-size="34.37">GSE68465</text>
<line x1="103.80" y1="1530.00" x2="103.80" y2="1808.80" stroke="#000" stroke-width="3.2" stroke-linecap="butt"/>
<line x1="102.30" y1="1807.20" x2="415.20" y2="1807.20" stroke="#000" stroke-width="3.2" stroke-linecap="butt"/>
<line x1="98.00" y1="1542.40" x2="103.80" y2="1542.40" stroke="#000" stroke-width="3.0" stroke-linecap="butt"/>
<text transform="translate(45.20,1550.82)" font-size="24.40">1.00</text>
<line x1="98.00" y1="1605.50" x2="103.80" y2="1605.50" stroke="#000" stroke-width="3.0" stroke-linecap="butt"/>
<text transform="translate(45.32,1613.92)" font-size="24.40">0.75</text>
<line x1="98.00" y1="1668.60" x2="103.80" y2="1668.60" stroke="#000" stroke-width="3.0" stroke-linecap="butt"/>
<text transform="translate(45.20,1677.02)" font-size="24.40">0.50</text>
<line x1="98.00" y1="1731.70" x2="103.80" y2="1731.70" stroke="#000" stroke-width="3.0" stroke-linecap="butt"/>
<text transform="translate(45.32,1740.12)" font-size="24.40">0.25</text>
<line x1="98.00" y1="1794.80" x2="103.80" y2="1794.80" stroke="#000" stroke-width="3.0" stroke-linecap="butt"/>
<text transform="translate(45.20,1803.22)" font-size="24.40">0.00</text>
<line x1="118.00" y1="1807.20" x2="118.00" y2="1812.70" stroke="#000" stroke-width="3.0" stroke-linecap="butt"/>
<text transform="translate(108.77,1836.62)" font-size="24.40">0</text>
<line x1="174.52" y1="1807.20" x2="174.52" y2="1812.70" stroke="#000" stroke-width="3.0" stroke-linecap="butt"/>
<text transform="translate(160.70,1836.62)" font-size="24.40">50</text>
<line x1="231.04" y1="1807.20" x2="231.04" y2="1812.70" stroke="#000" stroke-width="3.0" stroke-linecap="butt"/>
<text transform="translate(212.80,1836.62)" font-size="24.40">100</text>
<line x1="287.56" y1="1807.20" x2="287.56" y2="1812.70" stroke="#000" stroke-width="3.0" stroke-linecap="butt"/>
<text transform="translate(269.20,1836.62)" font-size="24.40">150</text>
<line x1="344.08" y1="1807.20" x2="344.08" y2="1812.70" stroke="#000" stroke-width="3.0" stroke-linecap="butt"/>
<text transform="translate(324.90,1836.62)" font-size="24.40">200</text>
<line x1="400.60" y1="1807.20" x2="400.60" y2="1812.70" stroke="#000" stroke-width="3.0" stroke-linecap="butt"/>
<text transform="translate(381.70,1836.62)" font-size="24.40">250</text>
<text transform="translate(221.05,1861.74) scale(1.0404,1)" font-size="24.08">Months</text>
<text transform="translate(30.37,1759.31) rotate(-90) scale(0.9905,1)" font-size="24.92">Survival probability</text>
<text transform="translate(204.61,1667.58) scale(0.9857,1)" font-size="24.84">p &lt; 0.001</text>
<line x1="118.40" y1="1668.20" x2="179.20" y2="1668.20" stroke="#000" stroke-width="3.2" stroke-linecap="butt" stroke-dasharray="12.6,12.6"/>
<line x1="147.20" y1="1794.80" x2="147.20" y2="1668.20" stroke="#000" stroke-width="3.6" stroke-linecap="butt" stroke-dasharray="12.6,12.6"/>
<line x1="179.20" y1="1794.80" x2="179.20" y2="1668.20" stroke="#000" stroke-width="3.6" stroke-linecap="butt" stroke-dasharray="12.6,12.6"/>
<path d="M118.40,1542.10 L120.55,1542.10 L120.55,1544.95 L122.70,1544.95 L122.70,1547.80 L124.50,1547.80 L124.50,1552.10 L126.30,1552.10 L126.30,1556.40 L129.10,1556.40 L129.10,1562.10 L132.00,1562.10 L132.00,1570.00 L134.15,1570.00 L134.15,1573.90 L136.30,1573.90 L136.30,1577.80 L138.05,1577.80 L138.05,1579.60 L139.80,1579.60 L139.80,1581.40 L141.60,1581.40 L141.60,1587.45 L143.40,1587.45 L143.40,1593.50 L145.55,1593.50 L145.55,1597.05 L147.70,1597.05 L147.70,1600.60 L149.80,1600.60 L149.80,1605.60 L151.90,1605.60 L151.90,1610.60 L154.80,1610.60 L154.80,1622.00 L157.30,1622.00 L157.30,1624.85 L159.80,1624.85 L159.80,1627.70 L161.60,1627.70 L161.60,1630.55 L163.40,1630.55 L163.40,1633.40 L166.20,1633.40 L166.20,1649.10 L168.33,1649.10 L168.33,1650.07 L170.47,1650.07 L170.47,1651.03 L172.60,1651.03 L172.60,1652.00 L174.80,1652.00 L174.80,1657.70 L176.90,1657.70 L176.90,1665.50 L178.90,1665.50 L178.90,1669.00 L181.10,1669.00 L181.10,1671.55 L183.30,1671.55 L183.30,1674.10 L186.40,1674.10 L186.40,1681.00 L192.40,1681.70 L194.90,1681.70 L194.90,1682.97 L197.40,1682.97 L197.40,1684.23 L199.90,1684.23 L199.90,1685.50 L201.90,1685.50 L201.90,1686.50 L203.90,1686.50 L203.90,1687.50 L205.90,1687.50 L205.90,1688.50 L208.90,1688.50 L208.90,1693.70 L217.10,1694.40 L218.60,1694.40 L218.60,1706.40 L238.10,1706.40 L238.10,1713.20 L244.80,1713.20 L244.80,1720.70 L305.50,1720.70 L305.50,1735.60 L391.60,1735.60" fill="none" stroke="#27351b" stroke-width="2.8" stroke-linejoin="miter" stroke-linecap="butt"/>
<path d="M117.70,1545.00 L117.70,1550.70 L121.30,1550.70 L122.70,1550.70 L122.70,1556.40 L124.80,1556.40 L124.80,1558.50 L125.60,1570.70 L127.30,1570.70 L127.30,1572.10 L127.70,1588.50 L129.80,1588.50 L129.80,1590.60 L131.30,1590.60 L131.30,1600.60 L133.40,1600.60 L133.40,1602.00 L134.80,1602.00 L134.80,1627.70 L137.00,1627.70 L137.00,1633.40 L139.80,1633.40 L139.80,1637.00 L140.50,1647.70 L143.40,1647.70 L143.40,1649.80 L144.80,1649.80 L144.80,1666.20 L146.70,1666.20 L146.70,1673.50 L155.00,1673.50 L156.50,1673.50 L156.50,1682.50 L158.70,1682.50 L158.70,1691.50 L161.00,1691.50 L161.00,1700.40 L162.50,1700.40 L162.50,1707.90 L169.20,1708.70 L170.00,1708.70 L170.00,1719.90 L172.20,1719.90 L172.20,1730.40 L174.40,1731.10 L175.90,1731.10 L175.90,1751.40 L185.70,1751.40 L185.70,1766.30 L199.20,1766.30" fill="none" stroke="#cc2a27" stroke-width="2.9" stroke-linejoin="miter" stroke-linecap="butt"/>
<text transform="translate(150.76,1904.80) scale(0.9596,1)" font-size="25.22">BAK1</text>
<rect x="220.90" y="1893.20" width="19.40" height="7.70" fill="#cc2a27"/>
<rect x="298.10" y="1893.20" width="19.90" height="7.70" fill="#27351b"/>
<text transform="translate(243.68,1903.39) scale(1.0603,1)" font-size="23.85">High</text>
<text transform="translate(320.60,1904.54) scale(0.9674,1)" font-size="25.86">Low</text>
<line x1="103.40" y1="1936.00" x2="103.40" y2="1991.40" stroke="#000" stroke-width="3.2" stroke-linecap="butt"/>
<line x1="101.90" y1="1989.80" x2="415.20" y2="1989.80" stroke="#000" stroke-width="3.2" stroke-linecap="butt"/>
<line x1="118.00" y1="1989.80" x2="118.00" y2="1994.80" stroke="#000" stroke-width="3.0" stroke-linecap="butt"/>
<text transform="translate(108.77,2019.62)" font-size="24.40">0</text>
<line x1="174.52" y1="1989.80" x2="174.52" y2="1994.80" stroke="#000" stroke-width="3.0" stroke-linecap="butt"/>
<text transform="translate(160.70,2019.62)" font-size="24.40">50</text>
<line x1="231.04" y1="1989.80" x2="231.04" y2="1994.80" stroke="#000" stroke-width="3.0" stroke-linecap="butt"/>
<text transform="translate(212.80,2019.62)" font-size="24.40">100</text>
<line x1="287.56" y1="1989.80" x2="287.56" y2="1994.80" stroke="#000" stroke-width="3.0" stroke-linecap="butt"/>
<text transform="translate(269.20,2019.62)" font-size="24.40">150</text>
<line x1="344.08" y1="1989.80" x2="344.08" y2="1994.80" stroke="#000" stroke-width="3.0" stroke-linecap="butt"/>
<text transform="translate(324.90,2019.62)" font-size="24.40">200</text>
<line x1="400.60" y1="1989.80" x2="400.60" y2="1994.80" stroke="#000" stroke-width="3.0" stroke-linecap="butt"/>
<text transform="translate(381.70,2019.62)" font-size="24.40">250</text>
<text transform="translate(107.46,1957.77)" font-size="24.40">67</text>
<text transform="translate(169.63,1957.65)" font-size="24.40">5</text>
<text transform="translate(225.97,1957.77)" font-size="24.40">0</text>
<text transform="translate(283.07,1957.77)" font-size="24.40">0</text>
<text transform="translate(339.47,1957.77)" font-size="24.40">0</text>
<text transform="translate(395.87,1957.77)" font-size="24.40">0</text>
<text transform="translate(104.13,1981.47)" font-size="24.40">435</text>
<text transform="translate(163.86,1981.47)" font-size="24.40">67</text>
<text transform="translate(220.93,1981.47)" font-size="24.40">16</text>
<text transform="translate(283.01,1981.47)" font-size="24.40">6</text>
<text transform="translate(339.53,1981.47)" font-size="24.40">3</text>
<text transform="translate(395.87,1981.47)" font-size="24.40">0</text>
<rect x="60.00" y="1940.60" width="34.30" height="6.10" fill="#cc2a27"/>
<rect x="60.00" y="1962.70" width="34.30" height="7.10" fill="#27351b"/>
<text transform="translate(47.10,1990.69) rotate(-90) scale(0.9121,1)" font-size="25.94">BAK1</text>
<text transform="translate(220.75,2043.76) scale(1.0404,1)" font-size="24.08">Months</text>
<text transform="translate(204.94,2100.61) scale(0.9793,1)" font-size="33.80">TCGA</text>
<line x1="521.60" y1="1521.10" x2="521.60" y2="1810.30" stroke="#000" stroke-width="3.2" stroke-linecap="butt"/>
<line x1="520.10" y1="1808.70" x2="862.50" y2="1808.70" stroke="#000" stroke-width="3.2" stroke-linecap="butt"/>
<line x1="515.80" y1="1534.50" x2="521.60" y2="1534.50" stroke="#000" stroke-width="3.0" stroke-linecap="butt"/>
<text transform="translate(463.50,1542.92)" font-size="24.40">1.00</text>
<line x1="515.80" y1="1599.82" x2="521.60" y2="1599.82" stroke="#000" stroke-width="3.0" stroke-linecap="butt"/>
<text transform="translate(463.62,1608.24)" font-size="24.40">0.75</text>
<line x1="515.80" y1="1665.15" x2="521.60" y2="1665.15" stroke="#000" stroke-width="3.0" stroke-linecap="butt"/>
<text transform="translate(463.50,1673.57)" font-size="24.40">0.50</text>
<line x1="515.80" y1="1730.47" x2="521.60" y2="1730.47" stroke="#000" stroke-width="3.0" stroke-linecap="butt"/>
<text transform="translate(463.62,1738.89)" font-size="24.40">0.25</text>
<line x1="515.80" y1="1795.80" x2="521.60" y2="1795.80" stroke="#000" stroke-width="3.0" stroke-linecap="butt"/>
<text transform="translate(463.50,1804.22)" font-size="24.40">0.00</text>
<line x1="537.20" y1="1808.70" x2="537.20" y2="1814.20" stroke="#000" stroke-width="3.0" stroke-linecap="butt"/>
<text transform="translate(527.77,1840.57)" font-size="24.40">0</text>
<line x1="599.35" y1="1808.70" x2="599.35" y2="1814.20" stroke="#000" stroke-width="3.0" stroke-linecap="butt"/>
<text transform="translate(584.20,1840.57)" font-size="24.40">50</text>
<line x1="661.50" y1="1808.70" x2="661.50" y2="1814.20" stroke="#000" stroke-width="3.0" stroke-linecap="butt"/>
<text transform="translate(641.00,1840.57)" font-size="24.40">100</text>
<line x1="723.65" y1="1808.70" x2="723.65" y2="1814.20" stroke="#000" stroke-width="3.0" stroke-linecap="butt"/>
<text transform="translate(703.30,1840.57)" font-size="24.40">150</text>
<line x1="785.80" y1="1808.70" x2="785.80" y2="1814.20" stroke="#000" stroke-width="3.0" stroke-linecap="butt"/>
<text transform="translate(764.40,1840.57)" font-size="24.40">200</text>
<line x1="847.95" y1="1808.70" x2="847.95" y2="1814.20" stroke="#000" stroke-width="3.0" stroke-linecap="butt"/>
<text transform="translate(826.10,1840.57)" font-size="24.40">250</text>
<text transform="translate(650.05,1865.51) scale(1.0404,1)" font-size="24.08">Months</text>
<text transform="translate(446.58,1759.31) rotate(-90) scale(1.0122,1)" font-size="24.39">Survival probability</text>
<text transform="translate(640.22,1660.38) scale(0.9817,1)" font-size="24.84">p &lt; 0.001</text>
<line x1="537.40" y1="1665.00" x2="604.60" y2="1665.00" stroke="#000" stroke-width="3.2" stroke-linecap="butt" stroke-dasharray="12.6,12.6"/>
<line x1="578.10" y1="1795.30" x2="578.10" y2="1665.00" stroke="#000" stroke-width="3.6" stroke-linecap="butt" stroke-dasharray="12.6,12.6"/>
<line x1="604.60" y1="1795.30" x2="604.60" y2="1665.00" stroke="#000" stroke-width="3.6" stroke-linecap="butt" stroke-dasharray="12.6,12.6"/>
<path d="M537.70,1534.50 L540.15,1534.50 L540.15,1537.80 L542.60,1537.80 L542.60,1541.10 L545.05,1541.10 L545.05,1544.35 L547.50,1544.35 L547.50,1547.60 L550.00,1547.60 L550.00,1555.00 L552.50,1555.00 L552.50,1562.40 L554.95,1562.40 L554.95,1566.90 L557.40,1566.90 L557.40,1571.40 L560.60,1571.40 L560.60,1574.60 L562.53,1574.60 L562.53,1578.17 L564.47,1578.17 L564.47,1581.73 L566.40,1581.73 L566.40,1585.30 L568.57,1585.30 L568.57,1589.67 L570.73,1589.67 L570.73,1594.03 L572.90,1594.03 L572.90,1598.40 L574.55,1598.40 L574.55,1603.70 L576.20,1603.70 L576.20,1609.00 L578.65,1609.00 L578.65,1612.90 L581.10,1612.90 L581.10,1616.80 L583.55,1616.80 L583.55,1620.70 L586.00,1620.70 L586.00,1624.60 L588.05,1624.60 L588.05,1630.70 L590.10,1630.70 L590.10,1636.80 L592.15,1636.80 L592.15,1639.28 L594.20,1639.28 L594.20,1641.75 L596.25,1641.75 L596.25,1644.22 L598.30,1644.22 L598.30,1646.70 L600.70,1646.70 L600.70,1662.20 L604.80,1663.00 L606.70,1663.00 L606.70,1668.80 L608.65,1668.80 L608.65,1670.40 L610.60,1670.40 L610.60,1672.00 L613.60,1672.00 L613.60,1679.20 L615.90,1679.20 L615.90,1679.50 L618.20,1679.50 L618.20,1679.80 L620.50,1679.80 L620.50,1680.10 L623.10,1680.10 L623.10,1681.35 L625.70,1681.35 L625.70,1682.60 L627.85,1682.60 L627.85,1683.90 L630.00,1683.90 L630.00,1685.20 L632.15,1685.20 L632.15,1686.50 L634.30,1686.50 L634.30,1687.80 L636.05,1687.80 L636.05,1690.40 L637.80,1690.40 L637.80,1693.00 L645.50,1693.00 L646.40,1693.00 L646.40,1701.70 L649.00,1701.70 L649.00,1706.80 L668.00,1706.80 L668.90,1706.80 L668.90,1713.80 L676.10,1713.80 L676.10,1721.20 L742.30,1721.20 L742.30,1735.90 L836.50,1735.90" fill="none" stroke="#27351b" stroke-width="2.8" stroke-linejoin="miter" stroke-linecap="butt"/>
<path d="M536.90,1536.20 L539.40,1536.20 L539.40,1541.90 L541.80,1541.90 L541.80,1544.40 L543.50,1544.40 L543.50,1550.90 L544.30,1562.40 L546.70,1562.40 L546.70,1567.30 L548.40,1567.30 L548.40,1573.80 L550.00,1573.80 L550.00,1580.40 L554.90,1581.20 L555.70,1581.20 L555.70,1586.90 L557.40,1586.90 L557.40,1604.90 L559.80,1604.90 L559.80,1606.60 L561.45,1606.60 L561.45,1614.35 L563.10,1614.35 L563.10,1622.10 L564.70,1622.10 L564.70,1628.70 L566.40,1628.70 L566.40,1640.90 L569.60,1641.70 L570.50,1641.70 L570.50,1645.80 L572.95,1645.80 L572.95,1646.25 L575.40,1646.25 L575.40,1646.70 L576.20,1646.70 L576.20,1655.70 L578.10,1655.70 L578.10,1671.40 L579.85,1671.40 L579.85,1675.30 L581.60,1675.30 L581.60,1679.20 L583.35,1679.20 L583.35,1679.65 L585.10,1679.65 L585.10,1680.10 L587.60,1680.10 L587.60,1699.90 L589.40,1699.90 L589.40,1712.90 L602.30,1712.90 L603.20,1712.90 L603.20,1721.50 L611.80,1721.50 L611.80,1734.50 L663.30,1734.50" fill="none" stroke="#cc2a27" stroke-width="2.9" stroke-linejoin="miter" stroke-linecap="butt"/>
<text transform="translate(586.87,1909.45) scale(1.0078,1)" font-size="24.51">GLI2</text>
<rect x="646.30" y="1898.30" width="20.50" height="7.20" fill="#cc2a27"/>
<rect x="730.40" y="1898.30" width="21.20" height="7.20" fill="#27351b"/>
<text transform="translate(671.27,1907.48) scale(1.0819,1)" font-size="23.42">High</text>
<text transform="translate(756.09,1908.15) scale(1.0086,1)" font-size="24.86">Low</text>
<line x1="521.50" y1="1934.20" x2="521.50" y2="1990.60" stroke="#000" stroke-width="3.2" stroke-linecap="butt"/>
<line x1="520.00" y1="1989.00" x2="862.50" y2="1989.00" stroke="#000" stroke-width="3.2" stroke-linecap="butt"/>
<line x1="537.20" y1="1989.00" x2="537.20" y2="1994.00" stroke="#000" stroke-width="3.0" stroke-linecap="butt"/>
<text transform="translate(527.47,2019.47)" font-size="24.40">0</text>
<line x1="599.35" y1="1989.00" x2="599.35" y2="1994.00" stroke="#000" stroke-width="3.0" stroke-linecap="butt"/>
<text transform="translate(584.20,2019.47)" font-size="24.40">50</text>
<line x1="661.50" y1="1989.00" x2="661.50" y2="1994.00" stroke="#000" stroke-width="3.0" stroke-linecap="butt"/>
<text transform="translate(641.00,2019.47)" font-size="24.40">100</text>
<line x1="723.65" y1="1989.00" x2="723.65" y2="1994.00" stroke="#000" stroke-width="3.0" stroke-linecap="butt"/>
<text transform="translate(703.00,2019.47)" font-size="24.40">150</text>
<line x1="785.80" y1="1989.00" x2="785.80" y2="1994.00" stroke="#000" stroke-width="3.0" stroke-linecap="butt"/>
<text transform="translate(764.40,2019.47)" font-size="24.40">200</text>
<line x1="847.95" y1="1989.00" x2="847.95" y2="1994.00" stroke="#000" stroke-width="3.0" stroke-linecap="butt"/>
<text transform="translate(826.10,2019.47)" font-size="24.40">250</text>
<text transform="translate(522.14,1955.74)" font-size="24.40">112</text>
<text transform="translate(594.03,1955.62)" font-size="24.40">9</text>
<text transform="translate(655.96,1955.62)" font-size="24.40">1</text>
<text transform="translate(717.77,1955.62)" font-size="24.40">0</text>
<text transform="translate(779.87,1955.62)" font-size="24.40">0</text>
<text transform="translate(841.77,1955.62)" font-size="24.40">0</text>
<text transform="translate(521.53,1980.67)" font-size="24.40">390</text>
<text transform="translate(588.24,1980.67)" font-size="24.40">63</text>
<text transform="translate(650.43,1980.55)" font-size="24.40">15</text>
<text transform="translate(717.71,1980.67)" font-size="24.40">6</text>
<text transform="translate(779.93,1980.67)" font-size="24.40">3</text>
<text transform="translate(841.77,1980.67)" font-size="24.40">0</text>
<rect x="473.00" y="1936.80" width="35.80" height="6.70" fill="#cc2a27"/>
<rect x="473.00" y="1962.00" width="35.80" height="6.60" fill="#27351b"/>
<text transform="translate(459.14,1984.92) rotate(-90) scale(0.9451,1)" font-size="25.77">GLI2</text>
<text transform="translate(650.05,2044.86) scale(1.0404,1)" font-size="24.08">Months</text>
<text transform="translate(624.54,2100.86) scale(0.9793,1)" font-size="33.80">TCGA</text>
<line x1="963.40" y1="1521.10" x2="963.40" y2="1812.20" stroke="#000" stroke-width="3.2" stroke-linecap="butt"/>
<line x1="961.90" y1="1810.60" x2="1291.40" y2="1810.60" stroke="#000" stroke-width="3.2" stroke-linecap="butt"/>
<line x1="957.60" y1="1534.50" x2="963.40" y2="1534.50" stroke="#000" stroke-width="3.0" stroke-linecap="butt"/>
<text transform="translate(906.10,1542.92)" font-size="24.40">1.00</text>
<line x1="957.60" y1="1600.25" x2="963.40" y2="1600.25" stroke="#000" stroke-width="3.0" stroke-linecap="butt"/>
<text transform="translate(906.22,1608.67)" font-size="24.40">0.75</text>
<line x1="957.60" y1="1666.00" x2="963.40" y2="1666.00" stroke="#000" stroke-width="3.0" stroke-linecap="butt"/>
<text transform="translate(906.10,1674.42)" font-size="24.40">0.50</text>
<line x1="957.60" y1="1731.75" x2="963.40" y2="1731.75" stroke="#000" stroke-width="3.0" stroke-linecap="butt"/>
<text transform="translate(906.22,1740.17)" font-size="24.40">0.25</text>
<line x1="957.60" y1="1797.50" x2="963.40" y2="1797.50" stroke="#000" stroke-width="3.0" stroke-linecap="butt"/>
<text transform="translate(906.10,1805.92)" font-size="24.40">0.00</text>
<line x1="978.50" y1="1810.60" x2="978.50" y2="1816.10" stroke="#000" stroke-width="3.0" stroke-linecap="butt"/>
<text transform="translate(969.07,1842.57)" font-size="24.40">0</text>
<line x1="1038.12" y1="1810.60" x2="1038.12" y2="1816.10" stroke="#000" stroke-width="3.0" stroke-linecap="butt"/>
<text transform="translate(1023.50,1842.57)" font-size="24.40">50</text>
<line x1="1097.74" y1="1810.60" x2="1097.74" y2="1816.10" stroke="#000" stroke-width="3.0" stroke-linecap="butt"/>
<text transform="translate(1078.60,1842.57)" font-size="24.40">100</text>
<line x1="1157.36" y1="1810.60" x2="1157.36" y2="1816.10" stroke="#000" stroke-width="3.0" stroke-linecap="butt"/>
<text transform="translate(1137.70,1842.57)" font-size="24.40">150</text>
<line x1="1216.98" y1="1810.60" x2="1216.98" y2="1816.10" stroke="#000" stroke-width="3.0" stroke-linecap="butt"/>
<text transform="translate(1197.20,1842.57)" font-size="24.40">200</text>
<line x1="1276.60" y1="1810.60" x2="1276.60" y2="1816.10" stroke="#000" stroke-width="3.0" stroke-linecap="butt"/>
<text transform="translate(1256.60,1842.57)" font-size="24.40">250</text>
<text transform="translate(1086.90,1867.56) scale(1.0404,1)" font-size="24.08">Months</text>
<text transform="translate(890.88,1760.91) rotate(-90) scale(1.0147,1)" font-size="24.39">Survival probability</text>
<text transform="translate(1095.41,1638.48) scale(0.9827,1)" font-size="24.84">p &lt; 0.001</text>
<line x1="978.10" y1="1665.90" x2="1084.70" y2="1665.90" stroke="#000" stroke-width="3.2" stroke-linecap="butt" stroke-dasharray="12.6,12.6"/>
<line x1="1026.40" y1="1796.60" x2="1026.40" y2="1665.90" stroke="#000" stroke-width="3.6" stroke-linecap="butt" stroke-dasharray="12.6,12.6"/>
<line x1="1084.70" y1="1796.60" x2="1084.70" y2="1665.90" stroke="#000" stroke-width="3.6" stroke-linecap="butt" stroke-dasharray="12.6,12.6"/>
<path d="M979.00,1534.50 L981.00,1534.50 L981.00,1537.80 L984.70,1538.20 L985.90,1538.20 L985.90,1544.40 L989.20,1545.20 L991.10,1545.20 L991.10,1545.87 L993.00,1545.87 L993.00,1546.53 L994.90,1546.53 L994.90,1547.20 L996.60,1547.20 L996.60,1555.80 L1001.50,1556.60 L1003.90,1556.60 L1003.90,1564.80 L1009.60,1565.60 L1011.30,1565.60 L1011.30,1573.80 L1014.60,1574.60 L1017.00,1574.60 L1017.00,1581.20 L1028.50,1581.20 L1029.30,1586.90 L1035.00,1586.90 L1036.60,1586.90 L1036.60,1593.50 L1038.30,1594.30 L1039.10,1613.90 L1042.80,1613.90 L1044.00,1613.90 L1044.00,1634.40 L1051.40,1634.40 L1051.40,1641.70 L1070.60,1641.70 L1070.60,1651.60 L1084.70,1651.60 L1084.70,1665.70 L1104.50,1665.70 L1104.50,1682.30 L1266.60,1682.30" fill="none" stroke="#27351b" stroke-width="2.8" stroke-linejoin="miter" stroke-linecap="butt"/>
<path d="M978.50,1535.40 L981.80,1535.40 L981.80,1541.10 L984.30,1541.10 L984.30,1548.50 L986.15,1548.50 L986.15,1550.95 L988.00,1550.95 L988.00,1553.40 L989.80,1553.40 L989.80,1562.40 L991.60,1562.40 L991.60,1571.40 L994.05,1571.40 L994.05,1577.50 L996.50,1577.50 L996.50,1583.60 L998.55,1583.60 L998.55,1586.90 L1000.60,1586.90 L1000.60,1590.20 L1002.53,1590.20 L1002.53,1596.20 L1004.47,1596.20 L1004.47,1602.20 L1006.40,1602.20 L1006.40,1608.20 L1008.80,1608.20 L1008.80,1616.40 L1010.85,1616.40 L1010.85,1619.65 L1012.90,1619.65 L1012.90,1622.90 L1014.95,1622.90 L1014.95,1630.70 L1017.00,1630.70 L1017.00,1638.50 L1019.05,1638.50 L1019.05,1644.60 L1021.10,1644.60 L1021.10,1650.70 L1023.00,1650.70 L1023.00,1655.87 L1024.90,1655.87 L1024.90,1661.03 L1026.80,1661.03 L1026.80,1666.20 L1029.40,1666.20 L1029.40,1677.50 L1031.70,1677.50 L1031.70,1680.07 L1034.00,1680.07 L1034.00,1682.63 L1036.30,1682.63 L1036.30,1685.20 L1038.90,1685.20 L1038.90,1694.70 L1041.20,1694.70 L1041.20,1695.87 L1043.50,1695.87 L1043.50,1697.03 L1045.80,1697.03 L1045.80,1698.20 L1047.50,1698.20 L1047.50,1700.80 L1049.20,1700.80 L1049.20,1703.40 L1050.10,1703.40 L1050.10,1710.30 L1058.80,1710.30 L1059.60,1713.80 L1064.80,1714.60 L1065.70,1714.60 L1065.70,1717.20 L1073.40,1717.20 L1073.40,1722.00 L1082.60,1722.00 L1082.60,1733.10 L1112.30,1733.10 L1112.30,1744.00 L1176.30,1744.00 L1176.30,1761.30 L1259.20,1761.30" fill="none" stroke="#cc2a27" stroke-width="2.9" stroke-linejoin="miter" stroke-linecap="butt"/>
<text transform="translate(1014.17,1911.70) scale(0.9589,1)" font-size="25.22">PLK1</text>
<rect x="1085.50" y="1900.60" width="20.20" height="7.30" fill="#cc2a27"/>
<rect x="1167.40" y="1900.60" width="20.40" height="7.30" fill="#27351b"/>
<text transform="translate(1110.06,1910.29) scale(1.0669,1)" font-size="23.85">High</text>
<text transform="translate(1191.63,1910.85) scale(0.9757,1)" font-size="25.29">Low</text>
<line x1="962.80" y1="1936.80" x2="962.80" y2="1993.30" stroke="#000" stroke-width="3.2" stroke-linecap="butt"/>
<line x1="961.30" y1="1991.70" x2="1291.40" y2="1991.70" stroke="#000" stroke-width="3.2" stroke-linecap="butt"/>
<line x1="978.50" y1="1991.70" x2="978.50" y2="1996.70" stroke="#000" stroke-width="3.0" stroke-linecap="butt"/>
<text transform="translate(969.07,2022.87)" font-size="24.40">0</text>
<line x1="1038.12" y1="1991.70" x2="1038.12" y2="1996.70" stroke="#000" stroke-width="3.0" stroke-linecap="butt"/>
<text transform="translate(1023.50,2022.87)" font-size="24.40">50</text>
<line x1="1097.74" y1="1991.70" x2="1097.74" y2="1996.70" stroke="#000" stroke-width="3.0" stroke-linecap="butt"/>
<text transform="translate(1078.60,2022.87)" font-size="24.40">100</text>
<line x1="1157.36" y1="1991.70" x2="1157.36" y2="1996.70" stroke="#000" stroke-width="3.0" stroke-linecap="butt"/>
<text transform="translate(1137.70,2022.87)" font-size="24.40">150</text>
<line x1="1216.98" y1="1991.70" x2="1216.98" y2="1996.70" stroke="#000" stroke-width="3.0" stroke-linecap="butt"/>
<text transform="translate(1197.20,2022.87)" font-size="24.40">200</text>
<line x1="1276.60" y1="1991.70" x2="1276.60" y2="1996.70" stroke="#000" stroke-width="3.0" stroke-linecap="butt"/>
<text transform="translate(1256.60,2022.87)" font-size="24.40">250</text>
<text transform="translate(962.89,1958.52)" font-size="24.40">376</text>
<text transform="translate(1027.80,1958.52)" font-size="24.40">43</text>
<text transform="translate(1092.07,1958.52)" font-size="24.40">8</text>
<text transform="translate(1151.45,1958.52)" font-size="24.40">4</text>
<text transform="translate(1211.63,1958.64)" font-size="24.40">2</text>
<text transform="translate(1271.17,1958.52)" font-size="24.40">0</text>
<text transform="translate(962.76,1983.27)" font-size="24.40">126</text>
<text transform="translate(1027.50,1983.27)" font-size="24.40">29</text>
<text transform="translate(1092.07,1983.27)" font-size="24.40">8</text>
<text transform="translate(1151.73,1983.39)" font-size="24.40">2</text>
<text transform="translate(1211.26,1983.27)" font-size="24.40">1</text>
<text transform="translate(1271.17,1983.27)" font-size="24.40">0</text>
<rect x="917.00" y="1940.30" width="35.70" height="6.60" fill="#cc2a27"/>
<rect x="917.00" y="1965.20" width="35.70" height="6.60" fill="#27351b"/>
<text transform="translate(903.60,1993.01) rotate(-90) scale(0.9710,1)" font-size="24.64">PLK1</text>
<text transform="translate(1086.90,2048.51) scale(1.0404,1)" font-size="24.08">Months</text>
<text transform="translate(1080.04,2101.11) scale(0.9793,1)" font-size="33.80">TCGA</text>
<line x1="1416.30" y1="1512.50" x2="1416.30" y2="1810.50" stroke="#000" stroke-width="3.2" stroke-linecap="butt"/>
<line x1="1414.80" y1="1808.90" x2="1719.10" y2="1808.90" stroke="#000" stroke-width="3.2" stroke-linecap="butt"/>
<line x1="1410.50" y1="1525.90" x2="1416.30" y2="1525.90" stroke="#000" stroke-width="3.0" stroke-linecap="butt"/>
<text transform="translate(1357.50,1534.32)" font-size="24.40">1.00</text>
<line x1="1410.50" y1="1593.30" x2="1416.30" y2="1593.30" stroke="#000" stroke-width="3.0" stroke-linecap="butt"/>
<text transform="translate(1357.62,1601.72)" font-size="24.40">0.75</text>
<line x1="1410.50" y1="1660.70" x2="1416.30" y2="1660.70" stroke="#000" stroke-width="3.0" stroke-linecap="butt"/>
<text transform="translate(1357.50,1669.12)" font-size="24.40">0.50</text>
<line x1="1410.50" y1="1728.10" x2="1416.30" y2="1728.10" stroke="#000" stroke-width="3.0" stroke-linecap="butt"/>
<text transform="translate(1357.62,1736.52)" font-size="24.40">0.25</text>
<line x1="1410.50" y1="1795.50" x2="1416.30" y2="1795.50" stroke="#000" stroke-width="3.0" stroke-linecap="butt"/>
<text transform="translate(1357.50,1803.92)" font-size="24.40">0.00</text>
<line x1="1430.00" y1="1808.90" x2="1430.00" y2="1814.40" stroke="#000" stroke-width="3.0" stroke-linecap="butt"/>
<text transform="translate(1421.07,1840.62)" font-size="24.40">0</text>
<line x1="1485.28" y1="1808.90" x2="1485.28" y2="1814.40" stroke="#000" stroke-width="3.0" stroke-linecap="butt"/>
<text transform="translate(1471.30,1840.62)" font-size="24.40">50</text>
<line x1="1540.56" y1="1808.90" x2="1540.56" y2="1814.40" stroke="#000" stroke-width="3.0" stroke-linecap="butt"/>
<text transform="translate(1522.00,1840.62)" font-size="24.40">100</text>
<line x1="1595.84" y1="1808.90" x2="1595.84" y2="1814.40" stroke="#000" stroke-width="3.0" stroke-linecap="butt"/>
<text transform="translate(1577.40,1840.62)" font-size="24.40">150</text>
<line x1="1651.12" y1="1808.90" x2="1651.12" y2="1814.40" stroke="#000" stroke-width="3.0" stroke-linecap="butt"/>
<text transform="translate(1631.70,1840.62)" font-size="24.40">200</text>
<line x1="1706.40" y1="1808.90" x2="1706.40" y2="1814.40" stroke="#000" stroke-width="3.0" stroke-linecap="butt"/>
<text transform="translate(1687.60,1840.62)" font-size="24.40">250</text>
<text transform="translate(1529.70,1866.41) scale(1.0404,1)" font-size="24.08">Months</text>
<text transform="translate(1343.48,1757.11) rotate(-90) scale(1.0122,1)" font-size="24.39">Survival probability</text>
<text transform="translate(1543.41,1634.48) scale(0.9857,1)" font-size="24.84">p &lt; 0.001</text>
<line x1="1429.70" y1="1660.80" x2="1528.50" y2="1660.80" stroke="#000" stroke-width="3.2" stroke-linecap="butt" stroke-dasharray="12.6,12.6"/>
<line x1="1474.20" y1="1795.00" x2="1474.20" y2="1660.80" stroke="#000" stroke-width="3.6" stroke-linecap="butt" stroke-dasharray="12.6,12.6"/>
<line x1="1528.50" y1="1795.00" x2="1528.50" y2="1660.80" stroke="#000" stroke-width="3.6" stroke-linecap="butt" stroke-dasharray="12.6,12.6"/>
<path d="M1430.50,1526.20 L1435.50,1527.00 L1438.70,1527.00 L1438.70,1530.30 L1440.40,1530.30 L1440.40,1534.40 L1442.80,1534.40 L1442.80,1539.30 L1445.30,1540.10 L1446.90,1540.10 L1446.90,1546.60 L1448.95,1546.60 L1448.95,1547.85 L1451.00,1547.85 L1451.00,1549.10 L1454.30,1549.10 L1454.30,1554.00 L1456.70,1554.00 L1456.70,1556.50 L1461.60,1556.50 L1463.30,1556.50 L1463.30,1568.70 L1465.70,1568.70 L1465.70,1573.60 L1466.60,1573.60 L1466.60,1582.60 L1473.90,1582.60 L1476.40,1582.60 L1476.40,1587.60 L1478.00,1587.60 L1478.00,1599.80 L1479.60,1599.80 L1479.60,1605.60 L1481.53,1605.60 L1481.53,1605.87 L1483.47,1605.87 L1483.47,1606.13 L1485.40,1606.13 L1485.40,1606.40 L1486.20,1627.70 L1489.50,1627.70 L1490.30,1639.10 L1495.20,1639.10 L1496.00,1644.80 L1509.90,1644.80 L1509.90,1651.60 L1515.30,1651.60 L1515.30,1659.40 L1528.70,1659.40 L1528.70,1669.00 L1546.80,1669.00 L1546.80,1683.10 L1696.80,1683.10" fill="none" stroke="#27351b" stroke-width="2.8" stroke-linejoin="miter" stroke-linecap="butt"/>
<path d="M1429.70,1526.20 L1433.00,1526.20 L1433.00,1532.70 L1436.30,1532.70 L1436.30,1545.80 L1438.70,1545.80 L1438.70,1549.10 L1441.15,1549.10 L1441.15,1558.90 L1443.60,1558.90 L1443.60,1568.70 L1446.10,1568.70 L1446.10,1575.30 L1447.70,1575.30 L1447.70,1582.60 L1450.20,1582.60 L1450.20,1585.10 L1452.10,1585.10 L1452.10,1592.73 L1454.00,1592.73 L1454.00,1600.37 L1455.90,1600.37 L1455.90,1608.00 L1459.20,1608.00 L1459.20,1620.30 L1461.65,1620.30 L1461.65,1624.40 L1464.10,1624.40 L1464.10,1628.50 L1466.00,1628.50 L1466.00,1634.23 L1467.90,1634.23 L1467.90,1639.97 L1469.80,1639.97 L1469.80,1645.70 L1473.10,1645.70 L1473.10,1657.10 L1475.80,1657.10 L1475.80,1671.00 L1480.60,1671.80 L1482.65,1671.80 L1482.65,1675.80 L1484.70,1675.80 L1484.70,1679.80 L1487.10,1679.80 L1487.10,1687.10 L1489.50,1687.10 L1489.50,1690.30 L1491.90,1690.30 L1491.90,1693.50 L1494.40,1693.50 L1494.40,1697.60 L1496.80,1697.60 L1496.80,1708.10 L1504.00,1708.10 L1504.00,1712.10 L1517.70,1712.10 L1517.70,1717.70 L1526.10,1717.70 L1526.10,1735.50 L1553.20,1735.50 L1553.20,1750.30 L1612.10,1750.30 L1612.10,1772.90 L1689.50,1772.90" fill="none" stroke="#cc2a27" stroke-width="2.9" stroke-linejoin="miter" stroke-linecap="butt"/>
<text transform="translate(1463.62,1912.80) scale(0.9449,1)" font-size="25.22">TLE1</text>
<rect x="1528.20" y="1901.20" width="19.60" height="7.60" fill="#cc2a27"/>
<rect x="1604.00" y="1901.20" width="19.30" height="7.60" fill="#27351b"/>
<text transform="translate(1550.36,1911.39) scale(1.0669,1)" font-size="23.85">High</text>
<text transform="translate(1625.69,1912.14) scale(0.9849,1)" font-size="25.57">Low</text>
<line x1="1415.60" y1="1933.70" x2="1415.60" y2="1992.40" stroke="#000" stroke-width="3.2" stroke-linecap="butt"/>
<line x1="1414.10" y1="1990.80" x2="1719.10" y2="1990.80" stroke="#000" stroke-width="3.2" stroke-linecap="butt"/>
<line x1="1430.00" y1="1990.80" x2="1430.00" y2="1995.80" stroke="#000" stroke-width="3.0" stroke-linecap="butt"/>
<text transform="translate(1421.07,2022.72)" font-size="24.40">0</text>
<line x1="1485.28" y1="1990.80" x2="1485.28" y2="1995.80" stroke="#000" stroke-width="3.0" stroke-linecap="butt"/>
<text transform="translate(1471.30,2022.72)" font-size="24.40">50</text>
<line x1="1540.56" y1="1990.80" x2="1540.56" y2="1995.80" stroke="#000" stroke-width="3.0" stroke-linecap="butt"/>
<text transform="translate(1521.80,2022.72)" font-size="24.40">100</text>
<line x1="1595.84" y1="1990.80" x2="1595.84" y2="1995.80" stroke="#000" stroke-width="3.0" stroke-linecap="butt"/>
<text transform="translate(1577.40,2022.72)" font-size="24.40">150</text>
<line x1="1651.12" y1="1990.80" x2="1651.12" y2="1995.80" stroke="#000" stroke-width="3.0" stroke-linecap="butt"/>
<text transform="translate(1631.70,2022.72)" font-size="24.40">200</text>
<line x1="1706.40" y1="1990.80" x2="1706.40" y2="1995.80" stroke="#000" stroke-width="3.0" stroke-linecap="butt"/>
<text transform="translate(1687.60,2022.72)" font-size="24.40">250</text>
<text transform="translate(1415.59,1956.67)" font-size="24.40">355</text>
<text transform="translate(1475.64,1956.67)" font-size="24.40">40</text>
<text transform="translate(1535.71,1956.67)" font-size="24.40">6</text>
<text transform="translate(1590.83,1956.79)" font-size="24.40">2</text>
<text transform="translate(1645.66,1956.67)" font-size="24.40">1</text>
<text transform="translate(1701.07,1956.67)" font-size="24.40">0</text>
<text transform="translate(1415.48,1982.72)" font-size="24.40">147</text>
<text transform="translate(1476.08,1982.72)" font-size="24.40">32</text>
<text transform="translate(1530.47,1982.72)" font-size="24.40">10</text>
<text transform="translate(1590.95,1982.72)" font-size="24.40">4</text>
<text transform="translate(1646.03,1982.84)" font-size="24.40">2</text>
<text transform="translate(1701.07,1982.72)" font-size="24.40">0</text>
<rect x="1373.20" y="1938.20" width="36.50" height="6.40" fill="#cc2a27"/>
<rect x="1373.20" y="1964.10" width="36.50" height="6.40" fill="#27351b"/>
<text transform="translate(1360.70,1991.18) rotate(-90) scale(0.9133,1)" font-size="26.23">TLE1</text>
<text transform="translate(1529.70,2048.61) scale(1.0404,1)" font-size="24.08">Months</text>
<text transform="translate(1523.24,2101.06) scale(0.9793,1)" font-size="33.80">TCGA</text>
<text transform="translate(864.34,882.76) scale(0.9743,1)" font-size="33.94">TCGA−LUAD</text>
<rect x="731" y="913.9" width="467" height="365.6" fill="none" stroke="#000" stroke-width="2"/>
<line x1="713.60" y1="1265.80" x2="731.00" y2="1265.80" stroke="#000" stroke-width="2" stroke-linecap="butt"/>
<line x1="748.30" y1="1279.60" x2="748.30" y2="1297.00" stroke="#000" stroke-width="2" stroke-linecap="butt"/>
<text transform="translate(670.94,1274.22)" font-size="24.40">0.0</text>
<text transform="translate(731.28,1321.62)" font-size="24.40">0.0</text>
<line x1="713.60" y1="1198.08" x2="731.00" y2="1198.08" stroke="#000" stroke-width="2" stroke-linecap="butt"/>
<line x1="834.72" y1="1279.60" x2="834.72" y2="1297.00" stroke="#000" stroke-width="2" stroke-linecap="butt"/>
<text transform="translate(671.30,1206.50)" font-size="24.40">0.2</text>
<text transform="translate(817.88,1321.62)" font-size="24.40">0.2</text>
<line x1="713.60" y1="1130.36" x2="731.00" y2="1130.36" stroke="#000" stroke-width="2" stroke-linecap="butt"/>
<line x1="921.14" y1="1279.60" x2="921.14" y2="1297.00" stroke="#000" stroke-width="2" stroke-linecap="butt"/>
<text transform="translate(670.82,1138.78)" font-size="24.40">0.4</text>
<text transform="translate(904.06,1321.62)" font-size="24.40">0.4</text>
<line x1="713.60" y1="1062.64" x2="731.00" y2="1062.64" stroke="#000" stroke-width="2" stroke-linecap="butt"/>
<line x1="1007.56" y1="1279.60" x2="1007.56" y2="1297.00" stroke="#000" stroke-width="2" stroke-linecap="butt"/>
<text transform="translate(671.06,1071.06)" font-size="24.40">0.6</text>
<text transform="translate(990.60,1321.62)" font-size="24.40">0.6</text>
<line x1="713.60" y1="994.92" x2="731.00" y2="994.92" stroke="#000" stroke-width="2" stroke-linecap="butt"/>
<line x1="1093.98" y1="1279.60" x2="1093.98" y2="1297.00" stroke="#000" stroke-width="2" stroke-linecap="butt"/>
<text transform="translate(671.06,1003.34)" font-size="24.40">0.8</text>
<text transform="translate(1077.02,1321.62)" font-size="24.40">0.8</text>
<line x1="713.60" y1="927.20" x2="731.00" y2="927.20" stroke="#000" stroke-width="2" stroke-linecap="butt"/>
<line x1="1180.40" y1="1279.60" x2="1180.40" y2="1297.00" stroke="#000" stroke-width="2" stroke-linecap="butt"/>
<text transform="translate(670.94,935.62)" font-size="24.40">1.0</text>
<text transform="translate(1162.95,1321.62)" font-size="24.40">1.0</text>
<text transform="translate(851.30,1364.44) scale(1.0601,1)" font-size="23.64">False positive rate</text>
<text transform="translate(640.83,1201.00) rotate(-90) scale(1.0082,1)" font-size="24.60">True positive rate</text>
<line x1="748.30" y1="1265.80" x2="1180.40" y2="927.20" stroke="#000" stroke-width="1.6" stroke-linecap="butt"/>
<path d="M748.32,1265.89 C748.66,1264.42 748.90,1261.29 750.36,1257.04 C751.81,1252.78 754.60,1245.93 757.04,1240.36 C759.48,1234.78 762.20,1230.30 765.00,1223.57 C767.80,1216.85 771.04,1207.42 773.86,1200.00 C776.68,1192.58 778.97,1186.29 781.93,1179.04 C784.89,1171.78 788.38,1163.72 791.61,1156.46 C794.83,1149.21 798.33,1141.68 801.29,1135.50 C804.24,1129.32 806.93,1123.66 809.36,1119.36 C811.78,1115.05 813.14,1113.71 815.82,1109.68 C818.51,1105.64 821.97,1100.25 825.46,1095.14 C828.96,1090.04 832.75,1084.68 836.79,1079.04 C840.82,1073.39 845.92,1066.66 849.68,1061.29 C853.44,1055.91 856.67,1050.42 859.36,1046.79 C862.04,1043.15 863.64,1041.39 865.79,1039.50 C867.93,1037.61 869.56,1036.62 872.25,1035.46 C874.94,1034.31 878.43,1033.51 881.93,1032.57 C885.42,1031.63 888.64,1030.95 893.21,1029.82 C897.79,1028.70 903.98,1027.08 909.36,1025.82 C914.73,1024.56 920.09,1023.60 925.46,1022.25 C930.84,1020.90 935.42,1019.52 941.61,1017.75 C947.79,1015.98 955.85,1013.62 962.57,1011.61 C969.29,1009.59 976.01,1007.71 981.93,1005.64 C987.85,1003.57 992.38,1001.61 998.07,999.18 C1003.76,996.75 1009.20,994.51 1016.07,991.07 C1022.94,987.64 1032.74,982.74 1039.29,978.57 C1045.83,974.40 1050.30,969.94 1055.36,966.07 C1060.42,962.20 1064.29,958.78 1069.64,955.36 C1075.00,951.93 1081.55,948.36 1087.50,945.54 C1093.45,942.71 1099.40,940.33 1105.36,938.39 C1111.31,936.46 1115.77,935.57 1123.21,933.93 C1130.65,932.29 1140.48,930.65 1150.00,928.57 C1159.52,926.49 1175.30,922.62 1180.36,921.43 L1180.36,927.14" fill="none" stroke="#E64B35" stroke-width="2.6" stroke-linejoin="round"/>
<path d="M748.32,1265.89 L748.32,1214.93 C750.33,1212.48 756.37,1205.16 760.36,1200.25 C764.35,1195.34 767.58,1190.88 772.25,1185.46 C776.92,1180.05 783.02,1173.66 788.39,1167.75 C793.77,1161.84 799.12,1155.92 804.50,1150.00 C809.88,1144.08 815.26,1138.17 820.64,1132.25 C826.02,1126.33 831.41,1120.55 836.79,1114.50 C842.16,1108.45 847.52,1101.88 852.89,1095.96 C858.27,1090.05 864.20,1084.01 869.04,1079.04 C873.88,1074.07 877.90,1069.77 881.93,1066.14 C885.96,1062.51 888.64,1060.61 893.21,1057.25 C897.79,1053.89 903.98,1049.46 909.36,1045.96 C914.73,1042.47 920.09,1039.51 925.46,1036.29 C930.84,1033.06 936.77,1029.70 941.61,1026.61 C946.45,1023.52 950.47,1020.84 954.50,1017.75 C958.53,1014.66 962.02,1011.30 965.79,1008.07 C969.55,1004.85 972.60,1002.42 977.11,998.39 C981.62,994.37 987.85,988.42 992.86,983.93 C997.86,979.43 1001.79,975.30 1007.14,971.43 C1012.50,967.56 1019.05,963.84 1025.00,960.71 C1030.95,957.59 1036.90,955.00 1042.86,952.68 C1048.81,950.36 1054.76,948.66 1060.71,946.79 C1066.67,944.91 1072.62,943.12 1078.57,941.43 C1084.52,939.73 1090.48,938.01 1096.43,936.61 C1102.38,935.21 1108.33,934.23 1114.29,933.04 C1120.24,931.85 1126.19,930.65 1132.14,929.46 C1138.10,928.27 1141.96,927.23 1150.00,925.89 C1158.04,924.55 1175.30,922.17 1180.36,921.43 L1180.36,927.14" fill="none" stroke="#4DBBD5" stroke-width="2.6" stroke-linejoin="round"/>
<path d="M748.32,1265.89 L748.32,1240.36 C750.33,1238.68 755.57,1234.50 760.36,1230.32 C765.15,1226.14 772.67,1219.98 777.07,1215.29 C781.48,1210.59 784.10,1205.94 786.79,1202.14 C789.48,1198.35 790.53,1195.82 793.21,1192.50 C795.90,1189.18 799.67,1185.30 802.89,1182.25 C806.12,1179.20 809.35,1177.67 812.57,1174.18 C815.80,1170.68 819.29,1165.85 822.25,1161.29 C825.21,1156.72 827.63,1151.62 830.32,1146.79 C833.01,1141.95 835.98,1136.55 838.39,1132.25 C840.81,1127.95 842.67,1125.80 844.82,1120.96 C846.97,1116.12 849.13,1108.86 851.29,1103.21 C853.44,1097.57 855.60,1093.29 857.75,1087.11 C859.90,1080.93 862.03,1072.06 864.18,1066.14 C866.33,1060.23 868.22,1055.91 870.64,1051.61 C873.07,1047.30 875.76,1043.55 878.71,1040.32 C881.67,1037.10 884.63,1035.07 888.39,1032.25 C892.15,1029.43 896.45,1026.35 901.29,1023.39 C906.12,1020.43 912.05,1017.46 917.43,1014.50 C922.80,1011.54 928.16,1008.06 933.54,1005.64 C938.91,1003.23 944.30,1001.88 949.68,1000.00 C955.05,998.12 960.41,996.38 965.79,994.36 C971.16,992.34 976.52,990.52 981.93,987.89 C987.33,985.26 991.04,982.06 998.21,978.57 C1005.39,975.08 1016.07,970.54 1025.00,966.96 C1033.93,963.39 1042.86,960.12 1051.79,957.14 C1060.71,954.17 1069.64,951.93 1078.57,949.11 C1087.50,946.28 1096.43,942.86 1105.36,940.18 C1114.29,937.50 1123.21,935.42 1132.14,933.04 C1141.07,930.65 1150.89,927.98 1158.93,925.89 C1166.96,923.81 1176.79,921.43 1180.36,920.54 L1180.36,927.14" fill="none" stroke="#00A087" stroke-width="2.6" stroke-linejoin="round"/>
<line x1="828.60" y1="1178.10" x2="880.40" y2="1178.10" stroke="#E64B35" stroke-width="2.6" stroke-linecap="butt"/>
<text transform="translate(904.53,1187.34) scale(0.9957,1)" font-size="25.03">1−year(s)  AUC=0.727</text>
<line x1="828.60" y1="1211.90" x2="880.40" y2="1211.90" stroke="#4DBBD5" stroke-width="2.6" stroke-linecap="butt"/>
<text transform="translate(905.41,1221.39) scale(0.9922,1)" font-size="25.03">3−year(s)  AUC=0.707</text>
<line x1="828.60" y1="1245.70" x2="880.40" y2="1245.70" stroke="#00A087" stroke-width="2.6" stroke-linecap="butt"/>
<text transform="translate(905.41,1255.44) scale(0.9922,1)" font-size="25.03">5−year(s)  AUC=0.702</text>
</svg></body></html>
